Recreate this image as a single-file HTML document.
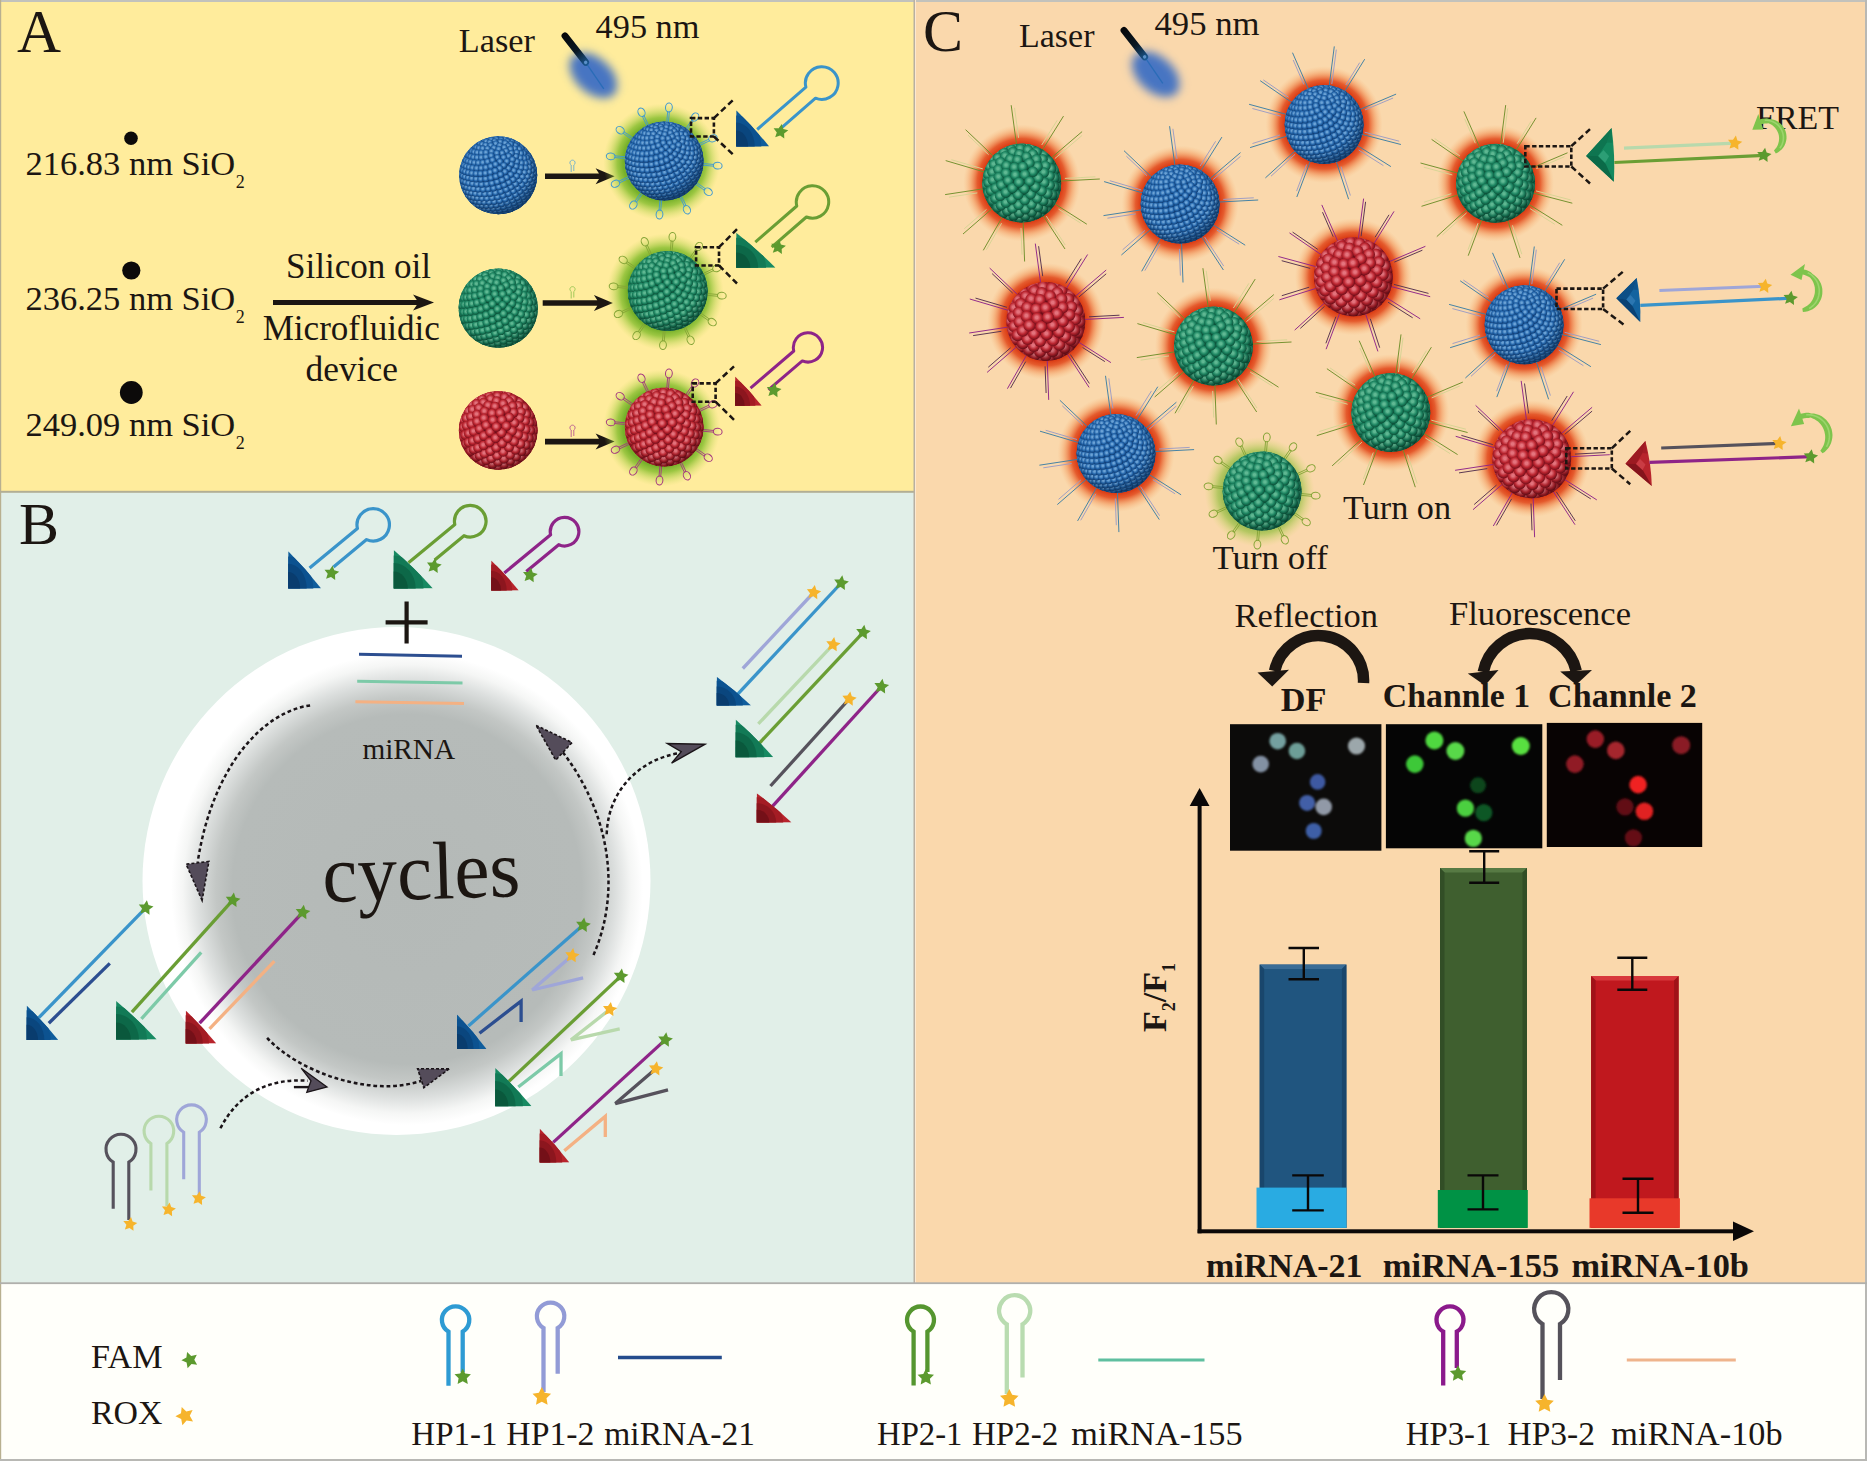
<!DOCTYPE html>
<html lang="en"><head><meta charset="utf-8"><title>Figure</title>
<style>
html,body{margin:0;padding:0;background:#fffffa;}
body{width:1867px;height:1461px;overflow:hidden;}
svg{display:block;font-family:"Liberation Serif",serif;}
</style></head><body>
<svg width="1867" height="1461" viewBox="0 0 1867 1461">
<defs>
<clipPath id="sclip"><circle r="40"/></clipPath>
<radialGradient id="sBb" cx="0.46" cy="0.43" r="0.58"><stop offset="0" stop-color="#6ca4d8"/><stop offset="0.18" stop-color="#6ca4d8"/><stop offset="0.6" stop-color="#2568ae"/><stop offset="1" stop-color="#0e3c74"/></radialGradient>
<radialGradient id="sBs" cx="0.45" cy="0.42" r="0.6"><stop offset="0" stop-color="#000" stop-opacity="0"/><stop offset="0.7" stop-color="#000" stop-opacity="0.02"/><stop offset="1" stop-color="#000" stop-opacity="0.3"/></radialGradient>
<symbol id="sB" viewBox="-41 -41 82 82" overflow="visible"><circle r="39.7" fill="#0e3c74"/><g clip-path="url(#sclip)" fill="url(#sBb)"><circle cx="-9.3" cy="-37" r="3.6"/><circle cx="-37.4" cy="-7.6" r="3.6"/><circle cx="37.7" cy="5.7" r="3.6"/><circle cx="35.9" cy="-12.9" r="3.6"/><circle cx="3.1" cy="-38.1" r="3.6"/><circle cx="2.4" cy="38.1" r="3.6"/><circle cx="-35.8" cy="-13.3" r="3.6"/><circle cx="27" cy="-27" r="3.6"/><circle cx="-5.8" cy="37.8" r="3.6"/><circle cx="-33.3" cy="-18.7" r="3.6"/><circle cx="-17.8" cy="33.8" r="3.6"/><circle cx="30.6" cy="22.9" r="3.6"/><circle cx="15.8" cy="-34.8" r="3.6"/><circle cx="-27.6" cy="26.4" r="3.6"/><circle cx="-15.5" cy="-34.9" r="3.6"/><circle cx="-30" cy="-23.6" r="3.6"/><circle cx="37.5" cy="-7.5" r="3.6"/><circle cx="-22.8" cy="30.6" r="3.6"/><circle cx="-34.6" cy="16.2" r="3.6"/><circle cx="36.5" cy="11.1" r="3.6"/><circle cx="23" cy="-30.5" r="3.6"/><circle cx="-25.9" cy="-28.1" r="3.6"/><circle cx="8.3" cy="-37.3" r="3.6"/><circle cx="7.5" cy="37.4" r="3.6"/><circle cx="26.9" cy="27" r="3.6"/><circle cx="38.1" cy="-2" r="3.6"/><circle cx="-36.7" cy="10.5" r="3.6"/><circle cx="22.6" cy="30.7" r="3.6"/><circle cx="12.7" cy="35.9" r="3.6"/><circle cx="-10.4" cy="36.6" r="3.6"/><circle cx="-21" cy="-31.8" r="3.6"/><circle cx="17.8" cy="33.6" r="3.6"/><circle cx="34.5" cy="16.2" r="3.6"/><circle cx="-37.8" cy="4.6" r="3.6"/><circle cx="-1.6" cy="38" r="3.6"/><circle cx="-31.2" cy="21.8" r="3.6"/><circle cx="-3.7" cy="-37.9" r="3.6"/><circle cx="-9.6" cy="-36.8" r="3.6"/><circle cx="-38" cy="-1.3" r="3.6"/><circle cx="37.8" cy="3.5" r="3.6"/><circle cx="32.2" cy="-20.2" r="3.6"/><circle cx="18.8" cy="-33" r="3.6"/><circle cx="-37.3" cy="-7.1" r="3.6"/><circle cx="34.7" cy="-15.2" r="3.6"/><circle cx="28.8" cy="-24.7" r="3.6"/><circle cx="1.8" cy="-37.9" r="3.6"/><circle cx="-35.7" cy="-12.8" r="3.6"/><circle cx="12.3" cy="-35.8" r="3.6"/><circle cx="-15.8" cy="34.4" r="3.6"/><circle cx="-33.2" cy="-18.2" r="3.6"/><circle cx="31.5" cy="20.9" r="3.6"/><circle cx="-26.6" cy="26.9" r="3.6"/><circle cx="-15.2" cy="-34.6" r="3.6"/><circle cx="36.4" cy="-10" r="3.6"/><circle cx="-29.8" cy="-23.2" r="3.6"/><circle cx="-21.3" cy="31.1" r="3.6"/><circle cx="-33.8" cy="16.6" r="3.6"/><circle cx="24.7" cy="-28.5" r="3.6"/><circle cx="3.2" cy="37.5" r="3.6"/><circle cx="36.6" cy="8.8" r="3.6"/><circle cx="-25.5" cy="-27.7" r="3.6"/><circle cx="27.9" cy="25.1" r="3.6"/><circle cx="-6.7" cy="36.9" r="3.6"/><circle cx="37.2" cy="-4.6" r="3.6"/><circle cx="6.5" cy="-36.8" r="3.6"/><circle cx="-35.7" cy="11.1" r="3.6"/><circle cx="8.4" cy="36.4" r="3.6"/><circle cx="23.6" cy="28.9" r="3.6"/><circle cx="-20.1" cy="-31.4" r="3.6"/><circle cx="34.5" cy="13.9" r="3.6"/><circle cx="-29.7" cy="22.3" r="3.6"/><circle cx="13.6" cy="34.5" r="3.6"/><circle cx="-36.7" cy="5.3" r="3.6"/><circle cx="18.8" cy="32" r="3.6"/><circle cx="37" cy="0.8" r="3.6"/><circle cx="-12.6" cy="34.8" r="3.6"/><circle cx="19.7" cy="-31.3" r="3.6"/><circle cx="-8.2" cy="-36" r="3.6"/><circle cx="-36.9" cy="-0.6" r="3.6"/><circle cx="-2.7" cy="-36.8" r="3.6"/><circle cx="14.3" cy="-34" r="3.6"/><circle cx="-36.2" cy="-6.4" r="3.6"/><circle cx="32.1" cy="-18" r="3.6"/><circle cx="28.9" cy="-22.8" r="3.6"/><circle cx="-2.2" cy="36.7" r="3.6"/><circle cx="-24.5" cy="27.4" r="3.6"/><circle cx="-34.6" cy="-12.1" r="3.6"/><circle cx="31.6" cy="18.6" r="3.6"/><circle cx="-18.6" cy="31.6" r="3.6"/><circle cx="-32.1" cy="-17.6" r="3.6"/><circle cx="-13.5" cy="-34" r="3.6"/><circle cx="34.2" cy="-12.9" r="3.6"/><circle cx="-28.6" cy="-22.7" r="3.6"/><circle cx="-32.1" cy="17.2" r="3.6"/><circle cx="35.9" cy="6.1" r="3.6"/><circle cx="24.4" cy="-26.9" r="3.6"/><circle cx="2.6" cy="-36.1" r="3.6"/><circle cx="-23.9" cy="-27.2" r="3.6"/><circle cx="35.3" cy="-7.6" r="3.6"/><circle cx="27.9" cy="22.9" r="3.6"/><circle cx="9.5" cy="-34.8" r="3.6"/><circle cx="2.8" cy="35.9" r="3.6"/><circle cx="-8.4" cy="34.8" r="3.6"/><circle cx="-33.8" cy="11.8" r="3.6"/><circle cx="-18" cy="-30.9" r="3.6"/><circle cx="33.8" cy="11.2" r="3.6"/><circle cx="23.5" cy="26.7" r="3.6"/><circle cx="-27.2" cy="22.9" r="3.6"/><circle cx="8.1" cy="34.5" r="3.6"/><circle cx="35.3" cy="-2.2" r="3.6"/><circle cx="-34.8" cy="6" r="3.6"/><circle cx="18.7" cy="29.9" r="3.6"/><circle cx="13.5" cy="32.5" r="3.6"/><circle cx="-14.9" cy="31.8" r="3.6"/><circle cx="18.2" cy="-30" r="3.6"/><circle cx="-21.3" cy="27.8" r="3.6"/><circle cx="-35" cy="0.2" r="3.6"/><circle cx="-4.5" cy="-34.7" r="3.6"/><circle cx="27.3" cy="-21.6" r="3.6"/><circle cx="-34.3" cy="-5.7" r="3.6"/><circle cx="30.9" cy="15.9" r="3.6"/><circle cx="-9.9" cy="-33.2" r="3.6"/><circle cx="-32.7" cy="-11.5" r="3.6"/><circle cx="30.4" cy="-16.5" r="3.6"/><circle cx="-30.1" cy="-17" r="3.6"/><circle cx="-3.6" cy="34.4" r="3.6"/><circle cx="13" cy="-31.9" r="3.6"/><circle cx="-26.4" cy="-22.1" r="3.6"/><circle cx="34.3" cy="3" r="3.6"/><circle cx="-29.4" cy="17.9" r="3.6"/><circle cx="22.2" cy="-26.2" r="3.6"/><circle cx="-21.3" cy="-26.7" r="3.6"/><circle cx="1.8" cy="-34.1" r="3.6"/><circle cx="32.1" cy="-11.3" r="3.6"/><circle cx="27.1" cy="20.2" r="3.6"/><circle cx="7.1" cy="-32.9" r="3.6"/><circle cx="-14.3" cy="-30.4" r="3.6"/><circle cx="1.7" cy="33.4" r="3.6"/><circle cx="-31" cy="12.4" r="3.6"/><circle cx="-10.4" cy="31.7" r="3.6"/><circle cx="-23.7" cy="23.3" r="3.6"/><circle cx="32.3" cy="8" r="3.6"/><circle cx="32.6" cy="-5.9" r="3.6"/><circle cx="22.7" cy="24" r="3.6"/><circle cx="-17.3" cy="28" r="3.6"/><circle cx="7.1" cy="31.9" r="3.6"/><circle cx="-32" cy="6.7" r="3.6"/><circle cx="17.8" cy="27.2" r="3.6"/><circle cx="12.6" cy="29.9" r="3.6"/><circle cx="-3.3" cy="-32.1" r="3.6"/><circle cx="24.1" cy="-21.4" r="3.6"/><circle cx="-32.2" cy="0.9" r="3.6"/><circle cx="29.4" cy="12.7" r="3.6"/><circle cx="17.3" cy="-26.9" r="3.6"/><circle cx="31.9" cy="-0.7" r="3.6"/><circle cx="-31.5" cy="-5" r="3.6"/><circle cx="-29.9" cy="-10.9" r="3.6"/><circle cx="-27.2" cy="-16.5" r="3.6"/><circle cx="-23.2" cy="-21.8" r="3.6"/><circle cx="27.4" cy="-16" r="3.6"/><circle cx="-17.4" cy="-26.5" r="3.6"/><circle cx="-5.4" cy="31.2" r="3.6"/><circle cx="-25.8" cy="18.4" r="3.6"/><circle cx="10.4" cy="-29.9" r="3.6"/><circle cx="-8.8" cy="-30.1" r="3.6"/><circle cx="25.7" cy="17" r="3.6"/><circle cx="28.8" cy="-10.5" r="3.6"/><circle cx="-19.6" cy="23.6" r="3.6"/><circle cx="-12.6" cy="27.9" r="3.6"/><circle cx="30.2" cy="4.3" r="3.6"/><circle cx="-27.4" cy="13" r="3.6"/><circle cx="0" cy="30.2" r="3.6"/><circle cx="1.1" cy="-30.2" r="3.6"/><circle cx="19.6" cy="-22.7" r="3.6"/><circle cx="21.4" cy="20.7" r="3.6"/><circle cx="12.9" cy="-26.4" r="3.6"/><circle cx="-12.3" cy="-26.6" r="3.6"/><circle cx="-28.4" cy="7.3" r="3.6"/><circle cx="5.6" cy="28.7" r="3.6"/><circle cx="28.7" cy="-5.2" r="3.6"/><circle cx="16.4" cy="24" r="3.6"/><circle cx="-19.1" cy="-21.7" r="3.6"/><circle cx="11.1" cy="26.6" r="3.6"/><circle cx="27.4" cy="9" r="3.6"/><circle cx="6" cy="-28" r="3.6"/><circle cx="-28.6" cy="1.4" r="3.6"/><circle cx="23.4" cy="-16.5" r="3.6"/><circle cx="-23.5" cy="-16.3" r="3.6"/><circle cx="-21.5" cy="18.6" r="3.6"/><circle cx="-7.4" cy="27.4" r="3.6"/><circle cx="-26.3" cy="-10.5" r="3.6"/><circle cx="-28" cy="-4.5" r="3.6"/><circle cx="-5.2" cy="-27.6" r="3.6"/><circle cx="-14.8" cy="23.5" r="3.6"/><circle cx="27.3" cy="-0.2" r="3.6"/><circle cx="23.8" cy="13.2" r="3.6"/><circle cx="24.5" cy="-10.8" r="3.6"/><circle cx="-23.1" cy="13.3" r="3.6"/><circle cx="-1.9" cy="26.4" r="3.6"/><circle cx="0" cy="-26.4" r="3.6"/><circle cx="-14" cy="-22.2" r="3.6"/><circle cx="18.7" cy="-18.4" r="3.6"/><circle cx="13.8" cy="-21.9" r="3.6"/><circle cx="19.5" cy="17" r="3.6"/><circle cx="8.1" cy="-24.1" r="3.6"/><circle cx="24.9" cy="4.6" r="3.6"/><circle cx="-24.1" cy="7.6" r="3.6"/><circle cx="3.7" cy="24.9" r="3.6"/><circle cx="-19" cy="-16.5" r="3.6"/><circle cx="-16.7" cy="18.6" r="3.6"/><circle cx="14.6" cy="20.2" r="3.6"/><circle cx="-9.5" cy="23" r="3.6"/><circle cx="-7.9" cy="-23.6" r="3.6"/><circle cx="9.3" cy="22.9" r="3.6"/><circle cx="23.9" cy="-5.5" r="3.6"/><circle cx="-22.1" cy="-10.5" r="3.6"/><circle cx="-24.4" cy="1.7" r="3.6"/><circle cx="-23.8" cy="-4.4" r="3.6"/><circle cx="21.5" cy="8.8" r="3.6"/><circle cx="19.7" cy="-12.3" r="3.6"/><circle cx="-18.3" cy="13.2" r="3.6"/><circle cx="-4" cy="22.1" r="3.6"/><circle cx="-13.9" cy="-17.3" r="3.6"/><circle cx="3.7" cy="-21.9" r="3.6"/><circle cx="22" cy="-0.6" r="3.6"/><circle cx="-2.2" cy="-21.8" r="3.6"/><circle cx="10.8" cy="-18.7" r="3.6"/><circle cx="17.3" cy="12.6" r="3.6"/><circle cx="-11.4" cy="18.1" r="3.6"/><circle cx="15" cy="-14.9" r="3.6"/><circle cx="-19.3" cy="7.5" r="3.6"/><circle cx="-8.3" cy="-18.9" r="3.6"/><circle cx="1.7" cy="20.6" r="3.6"/><circle cx="-17.3" cy="-10.9" r="3.6"/><circle cx="12.5" cy="15.9" r="3.6"/><circle cx="18.7" cy="-6.9" r="3.6"/><circle cx="7.2" cy="18.5" r="3.6"/><circle cx="-19.6" cy="1.5" r="3.6"/><circle cx="-19" cy="-4.6" r="3.6"/><circle cx="18.9" cy="3.7" r="3.6"/><circle cx="-13" cy="12.8" r="3.6"/><circle cx="-5.9" cy="17.2" r="3.6"/><circle cx="5.3" cy="-17" r="3.6"/><circle cx="-1.5" cy="-17" r="3.6"/><circle cx="-12.1" cy="-12.1" r="3.6"/><circle cx="15" cy="7.6" r="3.6"/><circle cx="13.5" cy="-9.3" r="3.6"/><circle cx="16.2" cy="-2.2" r="3.6"/><circle cx="-14.1" cy="7" r="3.6"/><circle cx="-0.3" cy="15.7" r="3.6"/><circle cx="-6.8" cy="-14" r="3.6"/><circle cx="8.8" cy="-12.7" r="3.6"/><circle cx="10.3" cy="10.9" r="3.6"/><circle cx="-14" cy="-5.5" r="3.6"/><circle cx="5.2" cy="13.6" r="3.6"/><circle cx="-14.5" cy="0.9" r="3.6"/><circle cx="-7.5" cy="11.8" r="3.6"/><circle cx="12.7" cy="1.9" r="3.6"/><circle cx="1.2" cy="-12.4" r="3.6"/><circle cx="10.5" cy="-4.8" r="3.6"/><circle cx="-8.7" cy="-6.9" r="3.6"/><circle cx="-8.7" cy="6" r="3.6"/><circle cx="-2" cy="10.2" r="3.6"/><circle cx="-3.6" cy="-9.2" r="3.6"/><circle cx="5.4" cy="-8.3" r="3.6"/><circle cx="8.3" cy="5.3" r="3.6"/><circle cx="-9.2" cy="-0.3" r="3.6"/><circle cx="3.3" cy="8.1" r="3.6"/><circle cx="6.5" cy="-1" r="3.6"/><circle cx="-3.3" cy="4.3" r="3.6"/><circle cx="1" cy="-4.8" r="3.6"/><circle cx="-4" cy="-2.2" r="3.6"/><circle cx="1.8" cy="2" r="3.6"/></g><circle r="40" fill="url(#sBs)"/></symbol>
<radialGradient id="sGb" cx="0.46" cy="0.43" r="0.58"><stop offset="0" stop-color="#60ba94"/><stop offset="0.18" stop-color="#60ba94"/><stop offset="0.6" stop-color="#1d8763"/><stop offset="1" stop-color="#0a5038"/></radialGradient>
<radialGradient id="sGs" cx="0.45" cy="0.42" r="0.6"><stop offset="0" stop-color="#000" stop-opacity="0"/><stop offset="0.7" stop-color="#000" stop-opacity="0.02"/><stop offset="1" stop-color="#000" stop-opacity="0.3"/></radialGradient>
<symbol id="sG" viewBox="-41 -41 82 82" overflow="visible"><circle r="39.7" fill="#0a5038"/><g clip-path="url(#sclip)" fill="url(#sGb)"><circle cx="27.2" cy="25.6" r="5.3"/><circle cx="5.1" cy="-37" r="5.3"/><circle cx="32.3" cy="18.8" r="5.3"/><circle cx="37.2" cy="2.7" r="5.3"/><circle cx="35.7" cy="11" r="5.3"/><circle cx="36.9" cy="-5.8" r="5.3"/><circle cx="-37.1" cy="4.2" r="5.3"/><circle cx="-34.5" cy="-14.4" r="5.3"/><circle cx="-15.8" cy="-33.8" r="5.3"/><circle cx="-7.5" cy="36.6" r="5.3"/><circle cx="34.5" cy="-14.1" r="5.3"/><circle cx="11.6" cy="35.5" r="5.3"/><circle cx="-20.1" cy="31.4" r="5.3"/><circle cx="23.8" cy="-28.7" r="5.3"/><circle cx="-8.1" cy="-36.4" r="5.3"/><circle cx="-22.8" cy="-29.5" r="5.3"/><circle cx="16.4" cy="-33.5" r="5.3"/><circle cx="1.7" cy="37.2" r="5.3"/><circle cx="-35.1" cy="12.3" r="5.3"/><circle cx="30" cy="-21.8" r="5.3"/><circle cx="-26.1" cy="26.4" r="5.3"/><circle cx="-36.5" cy="-6.5" r="5.3"/><circle cx="-31.3" cy="19.8" r="5.3"/><circle cx="-28.5" cy="-23.6" r="5.3"/><circle cx="19" cy="31.6" r="5.3"/><circle cx="-0.4" cy="-36.9" r="5.3"/><circle cx="9.6" cy="-35.4" r="5.3"/><circle cx="-12.6" cy="34.3" r="5.3"/><circle cx="25.5" cy="26.2" r="5.3"/><circle cx="30.6" cy="19.5" r="5.3"/><circle cx="36.1" cy="3.7" r="5.3"/><circle cx="-36.3" cy="1.8" r="5.3"/><circle cx="-32.3" cy="-16.6" r="5.3"/><circle cx="34.3" cy="11.9" r="5.3"/><circle cx="35.9" cy="-5" r="5.3"/><circle cx="8.6" cy="35" r="5.3"/><circle cx="33.3" cy="-13.7" r="5.3"/><circle cx="-2.5" cy="35.8" r="5.3"/><circle cx="-10.7" cy="-34.2" r="5.3"/><circle cx="22.1" cy="-28.2" r="5.3"/><circle cx="-18.3" cy="-30.8" r="5.3"/><circle cx="-18.6" cy="30.3" r="5.3"/><circle cx="-34" cy="10" r="5.3"/><circle cx="27.5" cy="-22" r="5.3"/><circle cx="-34" cy="-8.7" r="5.3"/><circle cx="-24.2" cy="-25.4" r="5.3"/><circle cx="15" cy="-31.7" r="5.3"/><circle cx="-30" cy="17.7" r="5.3"/><circle cx="-24.7" cy="24.6" r="5.3"/><circle cx="15.4" cy="31.2" r="5.3"/><circle cx="-1.5" cy="-34.7" r="5.3"/><circle cx="6.4" cy="-33.4" r="5.3"/><circle cx="-8.3" cy="32.9" r="5.3"/><circle cx="21.7" cy="25.9" r="5.3"/><circle cx="-28.1" cy="-18.7" r="5.3"/><circle cx="-33.6" cy="-0.5" r="5.3"/><circle cx="3.6" cy="33.3" r="5.3"/><circle cx="33" cy="-5.3" r="5.3"/><circle cx="33.1" cy="3.6" r="5.3"/><circle cx="27" cy="19.4" r="5.3"/><circle cx="31" cy="11.9" r="5.3"/><circle cx="29.8" cy="-14.5" r="5.3"/><circle cx="-8.9" cy="-31.4" r="5.3"/><circle cx="21.1" cy="-24.1" r="5.3"/><circle cx="-31.1" cy="7.8" r="5.3"/><circle cx="-14.7" cy="28.4" r="5.3"/><circle cx="-16.7" cy="-27.2" r="5.3"/><circle cx="-29.7" cy="-11" r="5.3"/><circle cx="11.2" cy="-29.1" r="5.3"/><circle cx="10.1" cy="29.5" r="5.3"/><circle cx="-26.7" cy="15.6" r="5.3"/><circle cx="-21.1" cy="22.6" r="5.3"/><circle cx="-2.6" cy="30.2" r="5.3"/><circle cx="-21.5" cy="-21.1" r="5.3"/><circle cx="24" cy="-17.3" r="5.3"/><circle cx="16.4" cy="24.4" r="5.3"/><circle cx="-2.4" cy="-29.2" r="5.3"/><circle cx="-29.2" cy="-2.9" r="5.3"/><circle cx="28.3" cy="-7" r="5.3"/><circle cx="28.4" cy="2.3" r="5.3"/><circle cx="21.9" cy="18.1" r="5.3"/><circle cx="26.1" cy="10.7" r="5.3"/><circle cx="14.9" cy="-23.9" r="5.3"/><circle cx="-9.4" cy="25.7" r="5.3"/><circle cx="-23.6" cy="-13.8" r="5.3"/><circle cx="-26.4" cy="5.2" r="5.3"/><circle cx="-11.6" cy="-24.3" r="5.3"/><circle cx="4.8" cy="-26.4" r="5.3"/><circle cx="3.7" cy="26.5" r="5.3"/><circle cx="-16" cy="19.9" r="5.3"/><circle cx="-21.9" cy="13" r="5.3"/><circle cx="22.4" cy="-10.6" r="5.3"/><circle cx="-23.2" cy="-5.9" r="5.3"/><circle cx="10" cy="21.5" r="5.3"/><circle cx="-4.1" cy="-23.3" r="5.3"/><circle cx="-15.4" cy="-17.5" r="5.3"/><circle cx="15.9" cy="-16.7" r="5.3"/><circle cx="22.8" cy="-0.5" r="5.3"/><circle cx="-3.2" cy="22.1" r="5.3"/><circle cx="15.6" cy="15.4" r="5.3"/><circle cx="20.1" cy="8" r="5.3"/><circle cx="7.7" cy="-20.2" r="5.3"/><circle cx="-20.5" cy="2.1" r="5.3"/><circle cx="-10" cy="16.4" r="5.3"/><circle cx="-15.9" cy="-9.9" r="5.3"/><circle cx="-16" cy="9.6" r="5.3"/><circle cx="3.1" cy="17.3" r="5.3"/><circle cx="16.7" cy="-5" r="5.3"/><circle cx="-7.3" cy="-15.7" r="5.3"/><circle cx="1.1" cy="-16.3" r="5.3"/><circle cx="11.3" cy="-11.4" r="5.3"/><circle cx="9" cy="11.3" r="5.3"/><circle cx="13.8" cy="4" r="5.3"/><circle cx="-13.7" cy="-2.2" r="5.3"/><circle cx="-3.6" cy="11.8" r="5.3"/><circle cx="-9.4" cy="5.2" r="5.3"/><circle cx="-6.4" cy="-7.9" r="5.3"/><circle cx="3.3" cy="-8.4" r="5.3"/><circle cx="7.9" cy="-1.6" r="5.3"/><circle cx="2.6" cy="5.9" r="5.3"/><circle cx="-2.8" cy="-0.6" r="5.3"/></g><circle r="40" fill="url(#sGs)"/></symbol>
<radialGradient id="sRb" cx="0.46" cy="0.43" r="0.58"><stop offset="0" stop-color="#e6747e"/><stop offset="0.18" stop-color="#e6747e"/><stop offset="0.6" stop-color="#be2631"/><stop offset="1" stop-color="#700c18"/></radialGradient>
<radialGradient id="sRs" cx="0.45" cy="0.42" r="0.6"><stop offset="0" stop-color="#000" stop-opacity="0"/><stop offset="0.7" stop-color="#000" stop-opacity="0.02"/><stop offset="1" stop-color="#000" stop-opacity="0.3"/></radialGradient>
<symbol id="sR" viewBox="-41 -41 82 82" overflow="visible"><circle r="39.7" fill="#700c18"/><g clip-path="url(#sclip)" fill="url(#sRb)"><circle cx="25.3" cy="-26.9" r="6.1"/><circle cx="-10.5" cy="-35.4" r="6.1"/><circle cx="-29.9" cy="21.6" r="6.1"/><circle cx="-34.5" cy="13.3" r="6.1"/><circle cx="23.4" cy="28.5" r="6.1"/><circle cx="17.1" cy="-32.7" r="6.1"/><circle cx="-32.2" cy="-18.2" r="6.1"/><circle cx="31.8" cy="-18.7" r="6.1"/><circle cx="30.5" cy="20.8" r="6.1"/><circle cx="-6.2" cy="36.4" r="6.1"/><circle cx="-1.8" cy="-36.8" r="6.1"/><circle cx="35" cy="11.5" r="6.1"/><circle cx="-35.5" cy="-9.6" r="6.1"/><circle cx="14.2" cy="33.9" r="6.1"/><circle cx="-19.3" cy="31.3" r="6.1"/><circle cx="36.7" cy="1.4" r="6.1"/><circle cx="9.7" cy="-35.4" r="6.1"/><circle cx="3.7" cy="36.5" r="6.1"/><circle cx="35.2" cy="-9.2" r="6.1"/><circle cx="-36.4" cy="-0.4" r="6.1"/><circle cx="-21.9" cy="-28.7" r="6.1"/><circle cx="-25.6" cy="25.4" r="6.1"/><circle cx="-13.5" cy="-33.4" r="6.1"/><circle cx="23.8" cy="-27" r="6.1"/><circle cx="22.5" cy="28.1" r="6.1"/><circle cx="-34.8" cy="8.9" r="6.1"/><circle cx="-31" cy="17.7" r="6.1"/><circle cx="-28.2" cy="-21.9" r="6.1"/><circle cx="29.6" cy="-19.6" r="6.1"/><circle cx="-11.1" cy="33.7" r="6.1"/><circle cx="28.8" cy="20.3" r="6.1"/><circle cx="15.8" cy="-31.4" r="6.1"/><circle cx="-3" cy="-34.8" r="6.1"/><circle cx="-32" cy="-13.6" r="6.1"/><circle cx="11.7" cy="32.8" r="6.1"/><circle cx="33" cy="10.9" r="6.1"/><circle cx="-0.1" cy="34.5" r="6.1"/><circle cx="34.3" cy="0.4" r="6.1"/><circle cx="6" cy="-33.6" r="6.1"/><circle cx="31.9" cy="-10.8" r="6.1"/><circle cx="-33.3" cy="-4.5" r="6.1"/><circle cx="-17.2" cy="28.8" r="6.1"/><circle cx="-11.6" cy="-30.7" r="6.1"/><circle cx="19" cy="26.6" r="6.1"/><circle cx="-20.3" cy="-25.2" r="6.1"/><circle cx="-32" cy="4.9" r="6.1"/><circle cx="22.8" cy="-22.6" r="6.1"/><circle cx="-23.3" cy="22" r="6.1"/><circle cx="-28.5" cy="13.9" r="6.1"/><circle cx="-5.8" cy="30.7" r="6.1"/><circle cx="25" cy="18.6" r="6.1"/><circle cx="11.6" cy="-28.8" r="6.1"/><circle cx="-25.4" cy="-17.6" r="6.1"/><circle cx="6.9" cy="30.1" r="6.1"/><circle cx="28.9" cy="9" r="6.1"/><circle cx="29.8" cy="-2.1" r="6.1"/><circle cx="25.8" cy="-14.6" r="6.1"/><circle cx="-4.1" cy="-28.7" r="6.1"/><circle cx="-27.4" cy="-8.8" r="6.1"/><circle cx="-12.2" cy="25" r="6.1"/><circle cx="15.8" cy="-22.6" r="6.1"/><circle cx="13.7" cy="23.6" r="6.1"/><circle cx="-14.6" cy="-22.4" r="6.1"/><circle cx="-26.6" cy="0.5" r="6.1"/><circle cx="4.2" cy="-25.5" r="6.1"/><circle cx="0.7" cy="25.8" r="6.1"/><circle cx="-18.4" cy="17.9" r="6.1"/><circle cx="-23.4" cy="9.5" r="6.1"/><circle cx="19.6" cy="15.4" r="6.1"/><circle cx="23.8" cy="-6.6" r="6.1"/><circle cx="23.4" cy="5.4" r="6.1"/><circle cx="-18.8" cy="-14.1" r="6.1"/><circle cx="-6" cy="-21.7" r="6.1"/><circle cx="16.8" cy="-14" r="6.1"/><circle cx="-5.8" cy="19.8" r="6.1"/><circle cx="7.4" cy="19.1" r="6.1"/><circle cx="-19.2" cy="-5" r="6.1"/><circle cx="7.5" cy="-18.2" r="6.1"/><circle cx="-11.9" cy="12.5" r="6.1"/><circle cx="17.2" cy="-0.1" r="6.1"/><circle cx="-16.6" cy="4.1" r="6.1"/><circle cx="13.3" cy="10.6" r="6.1"/><circle cx="-9.7" cy="-12.4" r="6.1"/><circle cx="11.4" cy="-7.7" r="6.1"/><circle cx="-0.1" cy="-13.5" r="6.1"/><circle cx="1" cy="13" r="6.1"/><circle cx="-8.7" cy="-3.1" r="6.1"/><circle cx="7.1" cy="4.1" r="6.1"/><circle cx="-4.7" cy="5.5" r="6.1"/><circle cx="2.2" cy="-4" r="6.1"/></g><circle r="40" fill="url(#sRs)"/></symbol>
<radialGradient id="sBab" cx="0.46" cy="0.43" r="0.58"><stop offset="0" stop-color="#6ca4d8"/><stop offset="0.18" stop-color="#6ca4d8"/><stop offset="0.6" stop-color="#2568ae"/><stop offset="1" stop-color="#0e3c74"/></radialGradient>
<radialGradient id="sBas" cx="0.45" cy="0.42" r="0.6"><stop offset="0" stop-color="#000" stop-opacity="0"/><stop offset="0.7" stop-color="#000" stop-opacity="0.02"/><stop offset="1" stop-color="#000" stop-opacity="0.3"/></radialGradient>
<symbol id="sBa" viewBox="-41 -41 82 82" overflow="visible"><circle r="39.7" fill="#0e3c74"/><g clip-path="url(#sclip)" fill="url(#sBab)"><circle cx="11.3" cy="-36.6" r="3.4"/><circle cx="19.2" cy="-33.1" r="3.4"/><circle cx="-32.9" cy="19.6" r="3.4"/><circle cx="20.6" cy="32.3" r="3.4"/><circle cx="32.8" cy="19.8" r="3.4"/><circle cx="37.3" cy="8.7" r="3.4"/><circle cx="11.1" cy="36.7" r="3.4"/><circle cx="-9.8" cy="37" r="3.4"/><circle cx="38.2" cy="-3.3" r="3.4"/><circle cx="16" cy="34.8" r="3.4"/><circle cx="-19" cy="-33.3" r="3.4"/><circle cx="-2" cy="38.3" r="3.4"/><circle cx="-2.2" cy="-38.3" r="3.4"/><circle cx="-35.4" cy="14.6" r="3.4"/><circle cx="29.7" cy="-24.2" r="3.4"/><circle cx="32.8" cy="-19.9" r="3.4"/><circle cx="-8.2" cy="-37.4" r="3.4"/><circle cx="3.5" cy="-38.2" r="3.4"/><circle cx="26.2" cy="-27.9" r="3.4"/><circle cx="-29.3" cy="24.7" r="3.4"/><circle cx="35.2" cy="-15.2" r="3.4"/><circle cx="-37.2" cy="9.4" r="3.4"/><circle cx="29.8" cy="24.1" r="3.4"/><circle cx="-14.6" cy="35.4" r="3.4"/><circle cx="38.3" cy="1.9" r="3.4"/><circle cx="35.8" cy="13.6" r="3.4"/><circle cx="-38.1" cy="4" r="3.4"/><circle cx="15.5" cy="-35" r="3.4"/><circle cx="-38.3" cy="-1.4" r="3.4"/><circle cx="-36.4" cy="-12" r="3.4"/><circle cx="-34.3" cy="-17" r="3.4"/><circle cx="-37.7" cy="-6.8" r="3.4"/><circle cx="-14" cy="-35.6" r="3.4"/><circle cx="-31.6" cy="-21.6" r="3.4"/><circle cx="2.5" cy="38.2" r="3.4"/><circle cx="36.9" cy="-10.2" r="3.4"/><circle cx="-24.8" cy="29.1" r="3.4"/><circle cx="-28.1" cy="-25.9" r="3.4"/><circle cx="-19.8" cy="32.7" r="3.4"/><circle cx="22.3" cy="-31" r="3.4"/><circle cx="26.2" cy="27.9" r="3.4"/><circle cx="8.5" cy="-37.3" r="3.4"/><circle cx="-6.5" cy="37.6" r="3.4"/><circle cx="-24" cy="-29.7" r="3.4"/><circle cx="-32.4" cy="20.2" r="3.4"/><circle cx="33.5" cy="18.3" r="3.4"/><circle cx="37.5" cy="7" r="3.4"/><circle cx="7.4" cy="37.4" r="3.4"/><circle cx="21.9" cy="31.2" r="3.4"/><circle cx="37.8" cy="-5.1" r="3.4"/><circle cx="-19.2" cy="-32.8" r="3.4"/><circle cx="12.4" cy="35.9" r="3.4"/><circle cx="17.3" cy="33.9" r="3.4"/><circle cx="-2.9" cy="-37.9" r="3.4"/><circle cx="-34.7" cy="15.4" r="3.4"/><circle cx="-8.4" cy="-37" r="3.4"/><circle cx="-11.7" cy="36" r="3.4"/><circle cx="31.1" cy="-21.6" r="3.4"/><circle cx="18.2" cy="-33.2" r="3.4"/><circle cx="-28.1" cy="25.4" r="3.4"/><circle cx="27.8" cy="-25.7" r="3.4"/><circle cx="30.4" cy="22.5" r="3.4"/><circle cx="2.3" cy="-37.8" r="3.4"/><circle cx="33.7" cy="-17.1" r="3.4"/><circle cx="12.1" cy="-35.8" r="3.4"/><circle cx="-2.3" cy="37.7" r="3.4"/><circle cx="-36.4" cy="10.2" r="3.4"/><circle cx="37.8" cy="0" r="3.4"/><circle cx="35.9" cy="11.9" r="3.4"/><circle cx="-37.4" cy="4.9" r="3.4"/><circle cx="-13.7" cy="-35.1" r="3.4"/><circle cx="-17.4" cy="33.4" r="3.4"/><circle cx="-23" cy="29.8" r="3.4"/><circle cx="-37.6" cy="-0.5" r="3.4"/><circle cx="-34" cy="-16.1" r="3.4"/><circle cx="-35.9" cy="-11.1" r="3.4"/><circle cx="-37.2" cy="-5.8" r="3.4"/><circle cx="-31.3" cy="-20.8" r="3.4"/><circle cx="35.5" cy="-12.3" r="3.4"/><circle cx="23.8" cy="-29.1" r="3.4"/><circle cx="-27.8" cy="-25.2" r="3.4"/><circle cx="26.6" cy="26.4" r="3.4"/><circle cx="-23.5" cy="-29" r="3.4"/><circle cx="-30.9" cy="21" r="3.4"/><circle cx="2.4" cy="37.3" r="3.4"/><circle cx="6.7" cy="-36.7" r="3.4"/><circle cx="36.9" cy="5" r="3.4"/><circle cx="33.4" cy="16.5" r="3.4"/><circle cx="36.5" cy="-7.3" r="3.4"/><circle cx="-7.9" cy="36.3" r="3.4"/><circle cx="22.3" cy="29.7" r="3.4"/><circle cx="-18.4" cy="-32.2" r="3.4"/><circle cx="7.4" cy="36.3" r="3.4"/><circle cx="17.6" cy="32.5" r="3.4"/><circle cx="-33.1" cy="16.3" r="3.4"/><circle cx="12.5" cy="34.7" r="3.4"/><circle cx="19.1" cy="-31.5" r="3.4"/><circle cx="-25.9" cy="26.1" r="3.4"/><circle cx="-7.1" cy="-36.1" r="3.4"/><circle cx="-1.9" cy="-36.7" r="3.4"/><circle cx="14" cy="-34" r="3.4"/><circle cx="-14" cy="33.9" r="3.4"/><circle cx="30.2" cy="20.7" r="3.4"/><circle cx="36.5" cy="-2.2" r="3.4"/><circle cx="35.2" cy="9.9" r="3.4"/><circle cx="27.8" cy="-23.8" r="3.4"/><circle cx="31" cy="-19.4" r="3.4"/><circle cx="-20.2" cy="30.5" r="3.4"/><circle cx="-34.8" cy="11.2" r="3.4"/><circle cx="-12.1" cy="-34.3" r="3.4"/><circle cx="-3.5" cy="36.2" r="3.4"/><circle cx="-35.8" cy="6" r="3.4"/><circle cx="33.1" cy="-14.8" r="3.4"/><circle cx="23.5" cy="-27.5" r="3.4"/><circle cx="-30.1" cy="-20" r="3.4"/><circle cx="-32.8" cy="-15.1" r="3.4"/><circle cx="-36.1" cy="0.6" r="3.4"/><circle cx="-34.7" cy="-10" r="3.4"/><circle cx="3" cy="-36" r="3.4"/><circle cx="-35.8" cy="-4.8" r="3.4"/><circle cx="-26.6" cy="-24.4" r="3.4"/><circle cx="26.3" cy="24.5" r="3.4"/><circle cx="-28.5" cy="21.9" r="3.4"/><circle cx="9.4" cy="-34.6" r="3.4"/><circle cx="-22" cy="-28.3" r="3.4"/><circle cx="35.7" cy="2.7" r="3.4"/><circle cx="32.7" cy="14.4" r="3.4"/><circle cx="34.3" cy="-9.9" r="3.4"/><circle cx="1.5" cy="35.6" r="3.4"/><circle cx="-9.9" cy="34.1" r="3.4"/><circle cx="-16.3" cy="-31.5" r="3.4"/><circle cx="21.9" cy="27.9" r="3.4"/><circle cx="-22.8" cy="26.8" r="3.4"/><circle cx="6.7" cy="34.5" r="3.4"/><circle cx="-30.6" cy="17.2" r="3.4"/><circle cx="-16.5" cy="30.9" r="3.4"/><circle cx="17" cy="30.6" r="3.4"/><circle cx="11.9" cy="32.8" r="3.4"/><circle cx="17.6" cy="-30.2" r="3.4"/><circle cx="34.5" cy="-4.9" r="3.4"/><circle cx="-3.6" cy="-34.6" r="3.4"/><circle cx="29.4" cy="18.6" r="3.4"/><circle cx="34" cy="7.5" r="3.4"/><circle cx="26.2" cy="-22.5" r="3.4"/><circle cx="-32.3" cy="12.2" r="3.4"/><circle cx="-8.7" cy="-33.4" r="3.4"/><circle cx="12.8" cy="-31.9" r="3.4"/><circle cx="29.3" cy="-17.9" r="3.4"/><circle cx="-5.2" cy="33.9" r="3.4"/><circle cx="21.4" cy="-26.7" r="3.4"/><circle cx="-33.4" cy="7" r="3.4"/><circle cx="2.2" cy="-34" r="3.4"/><circle cx="-24.4" cy="-23.7" r="3.4"/><circle cx="-28.1" cy="-19.1" r="3.4"/><circle cx="-25.2" cy="22.7" r="3.4"/><circle cx="-30.8" cy="-14.2" r="3.4"/><circle cx="25.4" cy="22.3" r="3.4"/><circle cx="-33.8" cy="1.7" r="3.4"/><circle cx="-19.5" cy="-27.7" r="3.4"/><circle cx="-32.6" cy="-9" r="3.4"/><circle cx="33.8" cy="-0.1" r="3.4"/><circle cx="-33.6" cy="-3.7" r="3.4"/><circle cx="31.1" cy="-13.1" r="3.4"/><circle cx="7.2" cy="-32.8" r="3.4"/><circle cx="31.4" cy="12" r="3.4"/><circle cx="-12.1" cy="31.1" r="3.4"/><circle cx="-12.9" cy="-30.8" r="3.4"/><circle cx="-0.1" cy="33.3" r="3.4"/><circle cx="-19" cy="27.4" r="3.4"/><circle cx="20.9" cy="25.6" r="3.4"/><circle cx="-27.3" cy="18.1" r="3.4"/><circle cx="31.7" cy="-8.2" r="3.4"/><circle cx="5.3" cy="32.2" r="3.4"/><circle cx="15.9" cy="28.3" r="3.4"/><circle cx="32.1" cy="4.6" r="3.4"/><circle cx="10.7" cy="30.5" r="3.4"/><circle cx="28" cy="16.1" r="3.4"/><circle cx="-2.5" cy="-32.2" r="3.4"/><circle cx="23.2" cy="-22.3" r="3.4"/><circle cx="16.8" cy="-27.2" r="3.4"/><circle cx="-29" cy="13.1" r="3.4"/><circle cx="-7.2" cy="31" r="3.4"/><circle cx="10.2" cy="-30" r="3.4"/><circle cx="26.4" cy="-17.3" r="3.4"/><circle cx="-21.3" cy="23.3" r="3.4"/><circle cx="-15.8" cy="-27.3" r="3.4"/><circle cx="-21.3" cy="-23.1" r="3.4"/><circle cx="31.2" cy="-3.4" r="3.4"/><circle cx="-7.6" cy="-30.4" r="3.4"/><circle cx="-25.2" cy="-18.4" r="3.4"/><circle cx="-30.2" cy="8" r="3.4"/><circle cx="-14.4" cy="27.6" r="3.4"/><circle cx="24" cy="19.7" r="3.4"/><circle cx="-28" cy="-13.4" r="3.4"/><circle cx="29.5" cy="9" r="3.4"/><circle cx="-30.7" cy="2.6" r="3.4"/><circle cx="-29.7" cy="-8.1" r="3.4"/><circle cx="-30.6" cy="-2.7" r="3.4"/><circle cx="-2" cy="30.4" r="3.4"/><circle cx="27.8" cy="-12.3" r="3.4"/><circle cx="1.6" cy="-30.3" r="3.4"/><circle cx="18.9" cy="-23.3" r="3.4"/><circle cx="19.4" cy="22.9" r="3.4"/><circle cx="-23.3" cy="18.7" r="3.4"/><circle cx="29.7" cy="1.3" r="3.4"/><circle cx="12.7" cy="-26.8" r="3.4"/><circle cx="3.5" cy="29.3" r="3.4"/><circle cx="-10.9" cy="-27.2" r="3.4"/><circle cx="14.3" cy="25.6" r="3.4"/><circle cx="26.2" cy="13.1" r="3.4"/><circle cx="9" cy="27.7" r="3.4"/><circle cx="-9.4" cy="27.5" r="3.4"/><circle cx="6.2" cy="-28.3" r="3.4"/><circle cx="-16.7" cy="23.6" r="3.4"/><circle cx="27.9" cy="-7.4" r="3.4"/><circle cx="-17.3" cy="-22.9" r="3.4"/><circle cx="22.5" cy="-17.7" r="3.4"/><circle cx="-25.1" cy="13.9" r="3.4"/><circle cx="-4.3" cy="-27.9" r="3.4"/><circle cx="-21.6" cy="-18" r="3.4"/><circle cx="27.2" cy="5.6" r="3.4"/><circle cx="22.1" cy="16.7" r="3.4"/><circle cx="-26.3" cy="8.7" r="3.4"/><circle cx="-24.4" cy="-12.8" r="3.4"/><circle cx="-4.1" cy="27" r="3.4"/><circle cx="-26.2" cy="-7.5" r="3.4"/><circle cx="-27" cy="3.4" r="3.4"/><circle cx="-27" cy="-2" r="3.4"/><circle cx="26.7" cy="-2.8" r="3.4"/><circle cx="23.7" cy="-12.5" r="3.4"/><circle cx="-18.8" cy="19.1" r="3.4"/><circle cx="0.6" cy="-26.8" r="3.4"/><circle cx="18.1" cy="-19.4" r="3.4"/><circle cx="17.5" cy="19.8" r="3.4"/><circle cx="-12.5" cy="-23.2" r="3.4"/><circle cx="13.5" cy="-22.6" r="3.4"/><circle cx="-11.6" cy="23.6" r="3.4"/><circle cx="1.4" cy="26" r="3.4"/><circle cx="8.1" cy="-24.6" r="3.4"/><circle cx="24" cy="9.6" r="3.4"/><circle cx="12.4" cy="22.4" r="3.4"/><circle cx="7" cy="24.5" r="3.4"/><circle cx="-6.8" cy="-24.3" r="3.4"/><circle cx="-20.5" cy="14.3" r="3.4"/><circle cx="-17.3" cy="-18" r="3.4"/><circle cx="24.5" cy="1.6" r="3.4"/><circle cx="23.3" cy="-7.7" r="3.4"/><circle cx="-6.3" cy="23.1" r="3.4"/><circle cx="-20.3" cy="-12.6" r="3.4"/><circle cx="19.9" cy="13.2" r="3.4"/><circle cx="-21.9" cy="9.2" r="3.4"/><circle cx="19.2" cy="-13.8" r="3.4"/><circle cx="-13.7" cy="19.2" r="3.4"/><circle cx="-22" cy="-7.1" r="3.4"/><circle cx="-22.6" cy="3.9" r="3.4"/><circle cx="4" cy="-22.6" r="3.4"/><circle cx="-22.7" cy="-1.6" r="3.4"/><circle cx="-1.4" cy="-22.6" r="3.4"/><circle cx="-12.5" cy="-18.6" r="3.4"/><circle cx="10.7" cy="-19.6" r="3.4"/><circle cx="15.3" cy="16.2" r="3.4"/><circle cx="-0.7" cy="22.2" r="3.4"/><circle cx="21.4" cy="5.6" r="3.4"/><circle cx="14.6" cy="-16.1" r="3.4"/><circle cx="21.5" cy="-3.2" r="3.4"/><circle cx="10.2" cy="18.8" r="3.4"/><circle cx="4.8" cy="20.7" r="3.4"/><circle cx="-7.2" cy="-20" r="3.4"/><circle cx="-15.5" cy="14.4" r="3.4"/><circle cx="-8.4" cy="18.8" r="3.4"/><circle cx="-15.7" cy="-12.9" r="3.4"/><circle cx="18.3" cy="-8.9" r="3.4"/><circle cx="17.6" cy="9.1" r="3.4"/><circle cx="-17" cy="9.4" r="3.4"/><circle cx="5.6" cy="-18.1" r="3.4"/><circle cx="-17.4" cy="-7.2" r="3.4"/><circle cx="18.8" cy="0.9" r="3.4"/><circle cx="-17.9" cy="4" r="3.4"/><circle cx="-0.8" cy="-18.2" r="3.4"/><circle cx="-2.8" cy="17.9" r="3.4"/><circle cx="-18.1" cy="-1.5" r="3.4"/><circle cx="13" cy="12.1" r="3.4"/><circle cx="-10.8" cy="-13.8" r="3.4"/><circle cx="-10.2" cy="14.1" r="3.4"/><circle cx="13.3" cy="-11.1" r="3.4"/><circle cx="8.9" cy="-14.2" r="3.4"/><circle cx="2.7" cy="16.6" r="3.4"/><circle cx="8" cy="14.6" r="3.4"/><circle cx="16" cy="-4.6" r="3.4"/><circle cx="-5.8" cy="-15.5" r="3.4"/><circle cx="15.1" cy="4.5" r="3.4"/><circle cx="-11.8" cy="9" r="3.4"/><circle cx="-12.6" cy="-7.8" r="3.4"/><circle cx="-4.8" cy="13.3" r="3.4"/><circle cx="1.8" cy="-14" r="3.4"/><circle cx="-12.8" cy="3.7" r="3.4"/><circle cx="-13.1" cy="-2" r="3.4"/><circle cx="10.8" cy="7.5" r="3.4"/><circle cx="12.7" cy="-0.8" r="3.4"/><circle cx="10.6" cy="-6.9" r="3.4"/><circle cx="0.6" cy="11.9" r="3.4"/><circle cx="-7.6" cy="-9.1" r="3.4"/><circle cx="5.7" cy="-10.1" r="3.4"/><circle cx="5.9" cy="10" r="3.4"/><circle cx="-2.7" cy="-11.1" r="3.4"/><circle cx="-6.4" cy="8.2" r="3.4"/><circle cx="8.6" cy="2.3" r="3.4"/><circle cx="-8.1" cy="-3" r="3.4"/><circle cx="-7.6" cy="2.8" r="3.4"/><circle cx="6.9" cy="-3.5" r="3.4"/><circle cx="1.6" cy="-7" r="3.4"/><circle cx="-1.1" cy="6.8" r="3.4"/><circle cx="4" cy="4.9" r="3.4"/><circle cx="-3.1" cy="-4.6" r="3.4"/><circle cx="-2.4" cy="1.3" r="3.4"/><circle cx="2.4" cy="-0.8" r="3.4"/></g><circle r="40" fill="url(#sBas)"/></symbol>
<radialGradient id="sGab" cx="0.46" cy="0.43" r="0.58"><stop offset="0" stop-color="#60ba94"/><stop offset="0.18" stop-color="#60ba94"/><stop offset="0.6" stop-color="#1d8763"/><stop offset="1" stop-color="#0a5038"/></radialGradient>
<radialGradient id="sGas" cx="0.45" cy="0.42" r="0.6"><stop offset="0" stop-color="#000" stop-opacity="0"/><stop offset="0.7" stop-color="#000" stop-opacity="0.02"/><stop offset="1" stop-color="#000" stop-opacity="0.3"/></radialGradient>
<symbol id="sGa" viewBox="-41 -41 82 82" overflow="visible"><circle r="39.7" fill="#0a5038"/><g clip-path="url(#sclip)" fill="url(#sGab)"><circle cx="12.9" cy="35.6" r="4.2"/><circle cx="32.7" cy="19" r="4.2"/><circle cx="-36.6" cy="-9.6" r="4.2"/><circle cx="-35.8" cy="12.2" r="4.2"/><circle cx="-12.7" cy="35.7" r="4.2"/><circle cx="29" cy="24.4" r="4.2"/><circle cx="-5.9" cy="-37.4" r="4.2"/><circle cx="34.3" cy="-16" r="4.2"/><circle cx="-12.7" cy="-35.7" r="4.2"/><circle cx="36.6" cy="-9.7" r="4.2"/><circle cx="18.9" cy="32.8" r="4.2"/><circle cx="24.4" cy="29" r="4.2"/><circle cx="-34" cy="-16.6" r="4.2"/><circle cx="31" cy="-21.7" r="4.2"/><circle cx="37.7" cy="-3.3" r="4.2"/><circle cx="20.1" cy="-32.1" r="4.2"/><circle cx="0.5" cy="-37.9" r="4.2"/><circle cx="12.7" cy="-35.7" r="4.2"/><circle cx="-19" cy="-32.7" r="4.2"/><circle cx="4.1" cy="37.6" r="4.2"/><circle cx="-37.5" cy="4.8" r="4.2"/><circle cx="-4.9" cy="37.5" r="4.2"/><circle cx="37.7" cy="3.2" r="4.2"/><circle cx="-30" cy="-23" r="4.2"/><circle cx="-32.9" cy="18.6" r="4.2"/><circle cx="-18" cy="33.2" r="4.2"/><circle cx="26.7" cy="-26.7" r="4.2"/><circle cx="36.5" cy="9.5" r="4.2"/><circle cx="-37.6" cy="-2.7" r="4.2"/><circle cx="-28.6" cy="24.5" r="4.2"/><circle cx="-23.5" cy="29.4" r="4.2"/><circle cx="-24.5" cy="-28.6" r="4.2"/><circle cx="6" cy="-37.1" r="4.2"/><circle cx="10" cy="36.2" r="4.2"/><circle cx="34.2" cy="15.5" r="4.2"/><circle cx="-36.2" cy="-10.1" r="4.2"/><circle cx="-35.6" cy="11.7" r="4.2"/><circle cx="-9.8" cy="36.1" r="4.2"/><circle cx="30.8" cy="21.1" r="4.2"/><circle cx="-11.1" cy="-35.6" r="4.2"/><circle cx="15.9" cy="33.7" r="4.2"/><circle cx="-33.2" cy="-17" r="4.2"/><circle cx="34.6" cy="-13.9" r="4.2"/><circle cx="21.4" cy="-30.5" r="4.2"/><circle cx="0" cy="37.2" r="4.2"/><circle cx="-4.7" cy="-36.9" r="4.2"/><circle cx="26.6" cy="26" r="4.2"/><circle cx="31.4" cy="-19.9" r="4.2"/><circle cx="36.4" cy="-7.5" r="4.2"/><circle cx="15.1" cy="-33.9" r="4.2"/><circle cx="21.5" cy="30.3" r="4.2"/><circle cx="-17.1" cy="-32.8" r="4.2"/><circle cx="-36.7" cy="4.4" r="4.2"/><circle cx="-28.6" cy="-23.3" r="4.2"/><circle cx="36.9" cy="-1.1" r="4.2"/><circle cx="-32" cy="18.3" r="4.2"/><circle cx="26.7" cy="-25.3" r="4.2"/><circle cx="-15.6" cy="33.3" r="4.2"/><circle cx="1.5" cy="-36.5" r="4.2"/><circle cx="36.2" cy="5.3" r="4.2"/><circle cx="-36.4" cy="-3" r="4.2"/><circle cx="-27.2" cy="24.2" r="4.2"/><circle cx="-21.5" cy="29.3" r="4.2"/><circle cx="5.5" cy="35.9" r="4.2"/><circle cx="9.6" cy="-35.1" r="4.2"/><circle cx="-22.2" cy="-28.8" r="4.2"/><circle cx="34.2" cy="11.5" r="4.2"/><circle cx="-5.5" cy="35.7" r="4.2"/><circle cx="-34.6" cy="-10.3" r="4.2"/><circle cx="-34" cy="11.4" r="4.2"/><circle cx="31.2" cy="17.2" r="4.2"/><circle cx="-31.1" cy="-17.3" r="4.2"/><circle cx="11.3" cy="33.8" r="4.2"/><circle cx="19.7" cy="-29.4" r="4.2"/><circle cx="-6.8" cy="-34.7" r="4.2"/><circle cx="33" cy="-12.6" r="4.2"/><circle cx="29.8" cy="-18.9" r="4.2"/><circle cx="27.2" cy="22.4" r="4.2"/><circle cx="17" cy="30.7" r="4.2"/><circle cx="-13.1" cy="-32.6" r="4.2"/><circle cx="-25.9" cy="-23.6" r="4.2"/><circle cx="22.4" cy="26.9" r="4.2"/><circle cx="-34.7" cy="4.1" r="4.2"/><circle cx="34.4" cy="-6" r="4.2"/><circle cx="-11.7" cy="32.9" r="4.2"/><circle cx="-29.8" cy="18" r="4.2"/><circle cx="13.8" cy="-31.8" r="4.2"/><circle cx="24.3" cy="-24.8" r="4.2"/><circle cx="-0.3" cy="34.6" r="4.2"/><circle cx="34.4" cy="0.4" r="4.2"/><circle cx="0.6" cy="-34.4" r="4.2"/><circle cx="-18.2" cy="29" r="4.2"/><circle cx="-34" cy="-3.3" r="4.2"/><circle cx="-24.4" cy="24" r="4.2"/><circle cx="-18.2" cy="-28.9" r="4.2"/><circle cx="6.8" cy="-33.1" r="4.2"/><circle cx="32.9" cy="6.7" r="4.2"/><circle cx="-31.8" cy="-10.6" r="4.2"/><circle cx="-31.3" cy="11.1" r="4.2"/><circle cx="5.4" cy="32.7" r="4.2"/><circle cx="-27.9" cy="-17.6" r="4.2"/><circle cx="30.3" cy="12.6" r="4.2"/><circle cx="-6.9" cy="32" r="4.2"/><circle cx="26.4" cy="-19" r="4.2"/><circle cx="-5.4" cy="-31.9" r="4.2"/><circle cx="-21.7" cy="-24" r="4.2"/><circle cx="29.8" cy="-12.2" r="4.2"/><circle cx="11.2" cy="30.1" r="4.2"/><circle cx="26.6" cy="17.9" r="4.2"/><circle cx="18.8" cy="-25.9" r="4.2"/><circle cx="-31.7" cy="3.9" r="4.2"/><circle cx="-26.5" cy="17.7" r="4.2"/><circle cx="22.1" cy="22.7" r="4.2"/><circle cx="16.8" cy="26.8" r="4.2"/><circle cx="-11.8" cy="-29.2" r="4.2"/><circle cx="-13.8" cy="28.3" r="4.2"/><circle cx="31" cy="-5.5" r="4.2"/><circle cx="10.7" cy="-29.6" r="4.2"/><circle cx="-20.4" cy="23.5" r="4.2"/><circle cx="-30.6" cy="-3.6" r="4.2"/><circle cx="-1.4" cy="30.5" r="4.2"/><circle cx="30.4" cy="0.9" r="4.2"/><circle cx="-28" cy="-11" r="4.2"/><circle cx="-0.2" cy="-29.8" r="4.2"/><circle cx="21.3" cy="-20.8" r="4.2"/><circle cx="-23.4" cy="-18.2" r="4.2"/><circle cx="-27.6" cy="10.7" r="4.2"/><circle cx="-15.8" cy="-24.8" r="4.2"/><circle cx="28.3" cy="7" r="4.2"/><circle cx="13.7" cy="-25.5" r="4.2"/><circle cx="4.4" cy="28.4" r="4.2"/><circle cx="25.4" cy="-13.1" r="4.2"/><circle cx="-8.6" cy="27.1" r="4.2"/><circle cx="25" cy="12.6" r="4.2"/><circle cx="5.5" cy="-27.4" r="4.2"/><circle cx="-22.1" cy="17.1" r="4.2"/><circle cx="-27.6" cy="3.4" r="4.2"/><circle cx="-7.6" cy="-26.4" r="4.2"/><circle cx="-15.6" cy="22.6" r="4.2"/><circle cx="10.2" cy="25.5" r="4.2"/><circle cx="20.8" cy="17.6" r="4.2"/><circle cx="26.4" cy="-6.1" r="4.2"/><circle cx="15.8" cy="21.9" r="4.2"/><circle cx="-26.3" cy="-4.2" r="4.2"/><circle cx="-17.7" cy="-19.4" r="4.2"/><circle cx="-23.3" cy="-11.9" r="4.2"/><circle cx="-2.9" cy="25.4" r="4.2"/><circle cx="20.2" cy="-15.6" r="4.2"/><circle cx="-1.5" cy="-25.3" r="4.2"/><circle cx="25.3" cy="0.3" r="4.2"/><circle cx="-23" cy="10" r="4.2"/><circle cx="14.6" cy="-20" r="4.2"/><circle cx="-10.8" cy="-21.5" r="4.2"/><circle cx="7.9" cy="-22.7" r="4.2"/><circle cx="-10.2" cy="21.3" r="4.2"/><circle cx="22.7" cy="6.2" r="4.2"/><circle cx="-17.1" cy="16.1" r="4.2"/><circle cx="2.9" cy="23" r="4.2"/><circle cx="-22.8" cy="2.5" r="4.2"/><circle cx="21.1" cy="-8" r="4.2"/><circle cx="-17.6" cy="-13.4" r="4.2"/><circle cx="18.8" cy="11.5" r="4.2"/><circle cx="-21.2" cy="-5.3" r="4.2"/><circle cx="8.7" cy="19.9" r="4.2"/><circle cx="14.1" cy="16" r="4.2"/><circle cx="2.7" cy="-19.9" r="4.2"/><circle cx="-4.1" cy="-19.6" r="4.2"/><circle cx="-17.8" cy="8.9" r="4.2"/><circle cx="-4.5" cy="19.3" r="4.2"/><circle cx="19.6" cy="-1.5" r="4.2"/><circle cx="11" cy="-16" r="4.2"/><circle cx="15.7" cy="-11.3" r="4.2"/><circle cx="-11.2" cy="-15.8" r="4.2"/><circle cx="-11.5" cy="14.5" r="4.2"/><circle cx="-17.4" cy="1.1" r="4.2"/><circle cx="-15.5" cy="-7.1" r="4.2"/><circle cx="16.4" cy="4.2" r="4.2"/><circle cx="1.4" cy="16.7" r="4.2"/><circle cx="12.1" cy="9.2" r="4.2"/><circle cx="7" cy="13.3" r="4.2"/><circle cx="4.6" cy="-13.9" r="4.2"/><circle cx="13.8" cy="-4.5" r="4.2"/><circle cx="-3.3" cy="-13.8" r="4.2"/><circle cx="-12.1" cy="7.1" r="4.2"/><circle cx="-9.5" cy="-9.8" r="4.2"/><circle cx="-5.7" cy="12.4" r="4.2"/><circle cx="8.6" cy="-8.7" r="4.2"/><circle cx="-11.7" cy="-1" r="4.2"/><circle cx="10.2" cy="1.1" r="4.2"/><circle cx="0" cy="9.4" r="4.2"/><circle cx="-0.3" cy="-8.2" r="4.2"/><circle cx="5.4" cy="5.7" r="4.2"/><circle cx="-6.3" cy="4.6" r="4.2"/><circle cx="-5.8" cy="-4" r="4.2"/><circle cx="4.4" cy="-3.1" r="4.2"/><circle cx="-0.7" cy="1.2" r="4.2"/></g><circle r="40" fill="url(#sGas)"/></symbol>
<radialGradient id="sRab" cx="0.46" cy="0.43" r="0.58"><stop offset="0" stop-color="#e6747e"/><stop offset="0.18" stop-color="#e6747e"/><stop offset="0.6" stop-color="#be2631"/><stop offset="1" stop-color="#700c18"/></radialGradient>
<radialGradient id="sRas" cx="0.45" cy="0.42" r="0.6"><stop offset="0" stop-color="#000" stop-opacity="0"/><stop offset="0.7" stop-color="#000" stop-opacity="0.02"/><stop offset="1" stop-color="#000" stop-opacity="0.3"/></radialGradient>
<symbol id="sRa" viewBox="-41 -41 82 82" overflow="visible"><circle r="39.7" fill="#700c18"/><g clip-path="url(#sclip)" fill="url(#sRab)"><circle cx="-13.1" cy="35.1" r="5"/><circle cx="28.6" cy="-24.3" r="5"/><circle cx="-28.5" cy="-24.4" r="5"/><circle cx="13.2" cy="35.1" r="5"/><circle cx="-36.4" cy="-9.2" r="5"/><circle cx="5.4" cy="-37.1" r="5"/><circle cx="-36.7" cy="7.9" r="5"/><circle cx="-5.5" cy="37.1" r="5"/><circle cx="37.4" cy="-1.1" r="5"/><circle cx="3.7" cy="37.2" r="5"/><circle cx="36.4" cy="-8.9" r="5"/><circle cx="20.1" cy="31.6" r="5"/><circle cx="-18.6" cy="32.5" r="5"/><circle cx="36.8" cy="6.5" r="5"/><circle cx="-14.2" cy="-34.6" r="5"/><circle cx="33.6" cy="-16.3" r="5"/><circle cx="-32.7" cy="-18" r="5"/><circle cx="23" cy="-29.4" r="5"/><circle cx="34.7" cy="13.9" r="5"/><circle cx="-6.9" cy="-36.7" r="5"/><circle cx="26.1" cy="26.6" r="5"/><circle cx="-34" cy="15.3" r="5"/><circle cx="31" cy="20.7" r="5"/><circle cx="15.9" cy="-33.7" r="5"/><circle cx="-20.9" cy="-30.9" r="5"/><circle cx="-37.2" cy="-1.5" r="5"/><circle cx="-24.4" cy="28" r="5"/><circle cx="-29.7" cy="22.2" r="5"/><circle cx="28.9" cy="-23.2" r="5"/><circle cx="-26.4" cy="-25.7" r="5"/><circle cx="0.3" cy="-36.8" r="5"/><circle cx="-10.5" cy="35.2" r="5"/><circle cx="10.4" cy="35.3" r="5"/><circle cx="-35" cy="-10.8" r="5"/><circle cx="9.6" cy="-35.3" r="5"/><circle cx="-35.9" cy="6.3" r="5"/><circle cx="-0.3" cy="36.4" r="5"/><circle cx="17" cy="31.8" r="5"/><circle cx="35.1" cy="-7.8" r="5"/><circle cx="-30.2" cy="-19.4" r="5"/><circle cx="35.9" cy="0" r="5"/><circle cx="-16.4" cy="31.8" r="5"/><circle cx="32.2" cy="-15.6" r="5"/><circle cx="34.8" cy="7.7" r="5"/><circle cx="21.3" cy="-28.6" r="5"/><circle cx="-9.3" cy="-34.4" r="5"/><circle cx="-32.8" cy="13.9" r="5"/><circle cx="-16.4" cy="-31.5" r="5"/><circle cx="23" cy="27.1" r="5"/><circle cx="32.2" cy="14.9" r="5"/><circle cx="-35.3" cy="-3" r="5"/><circle cx="28.1" cy="21.4" r="5"/><circle cx="-22.5" cy="26.9" r="5"/><circle cx="-28.2" cy="20.9" r="5"/><circle cx="26.4" cy="-23" r="5"/><circle cx="14.5" cy="-31.7" r="5"/><circle cx="5.8" cy="34.3" r="5"/><circle cx="-22.1" cy="-26.8" r="5"/><circle cx="-5.9" cy="34.1" r="5"/><circle cx="-0.7" cy="-34.6" r="5"/><circle cx="-32.1" cy="-12.2" r="5"/><circle cx="6.5" cy="-33.3" r="5"/><circle cx="-33.6" cy="4.8" r="5"/><circle cx="12.1" cy="31" r="5"/><circle cx="-25.9" cy="-20.8" r="5"/><circle cx="32" cy="-7.9" r="5"/><circle cx="28.6" cy="-16.2" r="5"/><circle cx="-12.3" cy="30.5" r="5"/><circle cx="32.6" cy="0.2" r="5"/><circle cx="-7.7" cy="-31.6" r="5"/><circle cx="-30" cy="12.4" r="5"/><circle cx="-32" cy="-4.5" r="5"/><circle cx="18.1" cy="26.6" r="5"/><circle cx="31.1" cy="7.9" r="5"/><circle cx="-0.2" cy="32" r="5"/><circle cx="20.3" cy="-24.7" r="5"/><circle cx="-18.9" cy="25.6" r="5"/><circle cx="-14.9" cy="-28" r="5"/><circle cx="28" cy="14.9" r="5"/><circle cx="23.6" cy="21.2" r="5"/><circle cx="-24.9" cy="19.4" r="5"/><circle cx="11" cy="-29.3" r="5"/><circle cx="-27.6" cy="-13.8" r="5"/><circle cx="-29.8" cy="3.2" r="5"/><circle cx="-19.5" cy="-22.5" r="5"/><circle cx="23" cy="-18.6" r="5"/><circle cx="5.9" cy="29" r="5"/><circle cx="-1.6" cy="-29.5" r="5"/><circle cx="-7" cy="28.5" r="5"/><circle cx="27.3" cy="-9.3" r="5"/><circle cx="14.5" cy="-24.4" r="5"/><circle cx="-27.2" cy="-6.3" r="5"/><circle cx="-25.8" cy="10.8" r="5"/><circle cx="27.8" cy="-0.8" r="5"/><circle cx="12" cy="24.9" r="5"/><circle cx="-13.9" cy="23.6" r="5"/><circle cx="5.1" cy="-26.7" r="5"/><circle cx="-10.2" cy="-25.1" r="5"/><circle cx="-20.4" cy="17.7" r="5"/><circle cx="26" cy="6.9" r="5"/><circle cx="-21.6" cy="-15.9" r="5"/><circle cx="17.7" cy="19.8" r="5"/><circle cx="22.5" cy="13.8" r="5"/><circle cx="-1.1" cy="25.6" r="5"/><circle cx="21.6" cy="-12.4" r="5"/><circle cx="-24.8" cy="1.3" r="5"/><circle cx="-3.2" cy="-24" r="5"/><circle cx="15.5" cy="-17.9" r="5"/><circle cx="-13.8" cy="-19" r="5"/><circle cx="-21.3" cy="-8.7" r="5"/><circle cx="-8.1" cy="21" r="5"/><circle cx="22.2" cy="-3.3" r="5"/><circle cx="7.8" cy="-21.1" r="5"/><circle cx="5.1" cy="21.9" r="5"/><circle cx="-20.5" cy="8.6" r="5"/><circle cx="-14.8" cy="15.3" r="5"/><circle cx="20.1" cy="4.5" r="5"/><circle cx="10.9" cy="17.1" r="5"/><circle cx="16.1" cy="11.3" r="5"/><circle cx="-18.8" cy="-1.4" r="5"/><circle cx="-14.3" cy="-12.1" r="5"/><circle cx="-6.1" cy="-17.1" r="5"/><circle cx="16.4" cy="-7.4" r="5"/><circle cx="1.7" cy="-17.6" r="5"/><circle cx="-2" cy="17.6" r="5"/><circle cx="11.2" cy="-13.1" r="5"/><circle cx="-14.5" cy="5.7" r="5"/><circle cx="-8.8" cy="12.1" r="5"/><circle cx="13.9" cy="0.8" r="5"/><circle cx="4" cy="13.1" r="5"/><circle cx="-12.2" cy="-5" r="5"/><circle cx="9.5" cy="7.6" r="5"/><circle cx="-5.3" cy="-10.1" r="5"/><circle cx="3.8" cy="-10.4" r="5"/><circle cx="8.2" cy="-4.2" r="5"/><circle cx="-8.2" cy="1.8" r="5"/><circle cx="-2.6" cy="7.9" r="5"/><circle cx="3.3" cy="2.6" r="5"/><circle cx="-1.9" cy="-3.4" r="5"/></g><circle r="40" fill="url(#sRas)"/></symbol>
<radialGradient id="glG"><stop offset="0.66" stop-color="#5ea616" stop-opacity="1"/><stop offset="0.76" stop-color="#76b820" stop-opacity="0.85"/><stop offset="0.88" stop-color="#9cca38" stop-opacity="0.4"/><stop offset="1" stop-color="#c8dc58" stop-opacity="0"/></radialGradient>
<radialGradient id="glR"><stop offset="0.66" stop-color="#d8340e" stop-opacity="1"/><stop offset="0.76" stop-color="#e24a1c" stop-opacity="0.88"/><stop offset="0.88" stop-color="#f08040" stop-opacity="0.42"/><stop offset="1" stop-color="#f8b070" stop-opacity="0"/></radialGradient>
<filter id="blur5" x="-50%" y="-50%" width="200%" height="200%"><feGaussianBlur stdDeviation="4.8"/></filter>
<linearGradient id="rod" x1="0" x2="1" y1="0" y2="0"><stop offset="0" stop-color="#050608"/><stop offset="0.55" stop-color="#0a1822"/><stop offset="1" stop-color="#1c5c98"/></linearGradient>
<clipPath id="wc23"><path d="M736.2 110.3V146.5H769.2Q753.4 127 736.2 110.3Z"/></clipPath>
<clipPath id="wc24"><path d="M736.2 232.8V267.8H775.5Q756.6 248.9 736.2 232.8Z"/></clipPath>
<clipPath id="wc25"><path d="M735.1 376.6V405.8H761.8Q749 390 735.1 376.6Z"/></clipPath>
<radialGradient id="cyc"><stop offset="0" stop-color="#b4b9b7"/><stop offset="0.74" stop-color="#b6bbb9"/><stop offset="0.81" stop-color="#c3c7c5"/><stop offset="0.885" stop-color="#dcdfde"/><stop offset="0.95" stop-color="#f5f6f5"/><stop offset="1" stop-color="#ffffff"/></radialGradient>
<clipPath id="wc27"><path d="M288.2 551.2V588.4H321.2Q305.4 568.3 288.2 551.2Z"/></clipPath>
<clipPath id="wc28"><path d="M393.7 550.1V588.4H432.9Q414.1 567.7 393.7 550.1Z"/></clipPath>
<clipPath id="wc29"><path d="M491.2 560.4V590.6H518.8Q505.6 574.3 491.2 560.4Z"/></clipPath>
<clipPath id="wc30"><path d="M26.6 1005.5V1039.9H58.2Q43 1021.3 26.6 1005.5Z"/></clipPath>
<clipPath id="wc31"><path d="M116.1 1001V1039.6H156.8Q137.3 1018.8 116.1 1001Z"/></clipPath>
<clipPath id="wc32"><path d="M185.7 1010.6V1043.6H216.3Q201.6 1025.8 185.7 1010.6Z"/></clipPath>
<clipPath id="wc33"><path d="M457 1014.5V1049.1H486.5Q472.3 1030.4 457 1014.5Z"/></clipPath>
<clipPath id="wc34"><path d="M495.2 1068V1106.2H531.6Q514.1 1085.6 495.2 1068Z"/></clipPath>
<clipPath id="wc35"><path d="M539.6 1128.6V1162.6H569.4Q555.1 1144.2 539.6 1128.6Z"/></clipPath>
<clipPath id="wc36"><path d="M716.7 676.8V705.6H751.1Q734.6 690 716.7 676.8Z"/></clipPath>
<clipPath id="wc37"><path d="M735.6 719.5V757.2H773.3Q755.2 736.8 735.6 719.5Z"/></clipPath>
<clipPath id="wc38"><path d="M756.7 793.2V822.6H791.6Q774.8 806.7 756.7 793.2Z"/></clipPath>
<linearGradient id="bB" x1="0" x2="1"><stop offset="0" stop-color="#163f66"/><stop offset="0.08" stop-color="#20557f"/><stop offset="0.92" stop-color="#20557f"/><stop offset="1" stop-color="#163f66"/></linearGradient>
<linearGradient id="bG" x1="0" x2="1"><stop offset="0" stop-color="#2c4a22"/><stop offset="0.08" stop-color="#3f5f2f"/><stop offset="0.92" stop-color="#3f5f2f"/><stop offset="1" stop-color="#2c4a22"/></linearGradient>
<linearGradient id="bR" x1="0" x2="1"><stop offset="0" stop-color="#9a1016"/><stop offset="0.08" stop-color="#c0181e"/><stop offset="0.92" stop-color="#c0181e"/><stop offset="1" stop-color="#9a1016"/></linearGradient>
<filter id="blur2" x="-50%" y="-50%" width="200%" height="200%"><feGaussianBlur stdDeviation="1.1"/></filter>
<clipPath id="mc43"><rect x="1230" y="724.2" width="151.4" height="126.5"/></clipPath>
<clipPath id="mc44"><rect x="1385.9" y="724.2" width="156.4" height="124.1"/></clipPath>
<clipPath id="mc45"><rect x="1546.8" y="722.9" width="155.4" height="124.1"/></clipPath>
</defs>
<rect width="1867" height="1461" fill="#fffffa"/>
<rect x="0" y="0" width="914" height="492" fill="#ffec9c"/>
<rect x="0" y="492" width="914" height="791" fill="#e1efe8"/>
<rect x="914" y="0" width="953" height="1283" fill="#fad8ac"/>
<rect x="0" y="0" width="1867" height="2" fill="#c2c2bc"/>
<rect x="0" y="0" width="1.2" height="1461" fill="#b8b090"/>
<rect x="1865" y="0" width="2" height="1461" fill="#b8b8b4"/>
<rect x="0" y="1459" width="1867" height="2" fill="#b8b8b4"/>
<rect x="0" y="490.8" width="914" height="2" fill="#b2ae94"/>
<rect x="913.5" y="0" width="1.5" height="1283" fill="#b8b0a2"/>
<rect x="915" y="0" width="1" height="1283" fill="#fce8d0"/>
<rect x="0" y="1282.3" width="1867" height="1.8" fill="#b0b0ac"/>
<g id="panelA"><text x="17" y="52.4" font-size="61" text-anchor="start" font-weight="normal" fill="#1c1612" >A</text><text x="25.4" y="175" font-size="34.5" fill="#1c1612">216.83 nm SiO<tspan font-size="18" dy="12.5" dx="0.5">2</tspan></text><text x="25.4" y="310" font-size="34.5" fill="#1c1612">236.25 nm SiO<tspan font-size="18" dy="12.5" dx="0.5">2</tspan></text><text x="25.4" y="436.3" font-size="34.5" fill="#1c1612">249.09 nm SiO<tspan font-size="18" dy="12.5" dx="0.5">2</tspan></text><circle cx="131" cy="138.2" r="6.8" fill="#0c0a0a"/><circle cx="131.3" cy="270.5" r="9.1" fill="#0c0a0a"/><circle cx="131.3" cy="392.5" r="11.4" fill="#0c0a0a"/><text x="358.5" y="278" font-size="35.1" text-anchor="middle" font-weight="normal" fill="#1c1612" >Silicon oil</text><polygon points="273,299.9 416.8,299.9 413,294.5 434,302.5 413,310.5 416.8,305.1 273,305.1" fill="#1c1612"/><text x="351.3" y="339.7" font-size="35.1" text-anchor="middle" font-weight="normal" fill="#1c1612" >Microfluidic</text><text x="351.7" y="381" font-size="35.4" text-anchor="middle" font-weight="normal" fill="#1c1612" >device</text><text x="458.8" y="51.9" font-size="34.3" text-anchor="start" font-weight="normal" fill="#1c1612" >Laser</text><text x="595.6" y="38.3" font-size="34.3" text-anchor="start" font-weight="normal" fill="#1c1612" >495 nm</text><g transform="translate(563.5,34) rotate(52)"><ellipse cx="51" cy="2" rx="28" ry="17.5" transform="rotate(-10 51 2)" fill="#4674c2" filter="url(#blur5)"/><line x1="36" y1="0" x2="68" y2="2" stroke="#2a6cb8" stroke-width="1.3"/><rect x="-1" y="-3.4" width="40.5" height="6.8" rx="3.4" fill="url(#rod)"/><circle cx="36" cy="0" r="1.7" fill="#5a90c8"/></g><use href="#sBa" x="458.2" y="135.3" width="80" height="80"/><use href="#sGa" x="457.5" y="267.4" width="81.4" height="81.4"/><use href="#sRa" x="457.8" y="389.9" width="80.8" height="80.8"/><polygon points="545,173.5 599,173.5 595.6,168.3 614.6,176.3 595.6,184.3 599,179.1 545,179.1" fill="#1c1612"/><polygon points="542.7,300.2 597.3,300.2 593.9,295 612.9,303 593.9,311 597.3,305.8 542.7,305.8" fill="#1c1612"/><polygon points="545,438.8 599,438.8 595.6,433.6 614.6,441.6 595.6,449.6 599,444.4 545,444.4" fill="#1c1612"/><path d="M571.2 172V165A2.6 2.6 0 1 1 573.8 165V171" fill="none" stroke="#5aa6d6" stroke-width="0.8"/><path d="M571.2 298.5V291.5A2.6 2.6 0 1 1 573.8 291.5V297.5" fill="none" stroke="#8cc04a" stroke-width="0.8"/><path d="M571.2 437V430A2.6 2.6 0 1 1 573.8 430V436" fill="none" stroke="#b04890" stroke-width="0.8"/><circle cx="661.7" cy="162" r="58.5" fill="url(#glG)" opacity="0.85"/><path d="M668.4 122.8L669.4 111.4M666.7 122.7L667.7 111.2" stroke="#3e98d2" stroke-width="0.9" fill="none"/><ellipse cx="668.9" cy="107.5" rx="4.4" ry="3.4" transform="rotate(-85 668.9 107.5)" fill="none" stroke="#3e98d2" stroke-width="1"/><path d="M687 130.1L693.6 120.6M685.5 129L692.1 119.6" stroke="#3e98d2" stroke-width="0.9" fill="none"/><ellipse cx="695" cy="117" rx="4.4" ry="3.4" transform="rotate(-55 695 117)" fill="none" stroke="#3e98d2" stroke-width="1"/><path d="M699.4 145.6L709.8 140.7M698.6 144L709 139.1" stroke="#3e98d2" stroke-width="0.9" fill="none"/><ellipse cx="712.9" cy="138.3" rx="4.4" ry="3.4" transform="rotate(-25 712.9 138.3)" fill="none" stroke="#3e98d2" stroke-width="1"/><path d="M702.4 165.2L713.8 166.2M702.5 163.5L714 164.5" stroke="#3e98d2" stroke-width="0.9" fill="none"/><ellipse cx="717.7" cy="165.7" rx="4.4" ry="3.4" transform="rotate(5 717.7 165.7)" fill="none" stroke="#3e98d2" stroke-width="1"/><path d="M695.1 183.8L704.6 190.4M696.2 182.3L705.6 188.9" stroke="#3e98d2" stroke-width="0.9" fill="none"/><ellipse cx="708.2" cy="191.8" rx="4.4" ry="3.4" transform="rotate(35 708.2 191.8)" fill="none" stroke="#3e98d2" stroke-width="1"/><path d="M679.6 196.2L684.5 206.6M681.2 195.4L686.1 205.8" stroke="#3e98d2" stroke-width="0.9" fill="none"/><ellipse cx="686.9" cy="209.7" rx="4.4" ry="3.4" transform="rotate(65 686.9 209.7)" fill="none" stroke="#3e98d2" stroke-width="1"/><path d="M660 199.2L659 210.6M661.7 199.3L660.7 210.8" stroke="#3e98d2" stroke-width="0.9" fill="none"/><ellipse cx="659.5" cy="214.5" rx="4.4" ry="3.4" transform="rotate(95 659.5 214.5)" fill="none" stroke="#3e98d2" stroke-width="1"/><path d="M641.4 191.9L634.8 201.4M642.9 193L636.3 202.4" stroke="#3e98d2" stroke-width="0.9" fill="none"/><ellipse cx="633.4" cy="205" rx="4.4" ry="3.4" transform="rotate(125 633.4 205)" fill="none" stroke="#3e98d2" stroke-width="1"/><path d="M629 176.4L618.6 181.3M629.8 178L619.4 182.9" stroke="#3e98d2" stroke-width="0.9" fill="none"/><ellipse cx="615.5" cy="183.7" rx="4.4" ry="3.4" transform="rotate(155 615.5 183.7)" fill="none" stroke="#3e98d2" stroke-width="1"/><path d="M626 156.8L614.6 155.8M625.9 158.5L614.4 157.5" stroke="#3e98d2" stroke-width="0.9" fill="none"/><ellipse cx="610.7" cy="156.3" rx="4.4" ry="3.4" transform="rotate(185 610.7 156.3)" fill="none" stroke="#3e98d2" stroke-width="1"/><path d="M633.3 138.2L623.8 131.6M632.2 139.7L622.8 133.1" stroke="#3e98d2" stroke-width="0.9" fill="none"/><ellipse cx="620.2" cy="130.2" rx="4.4" ry="3.4" transform="rotate(215 620.2 130.2)" fill="none" stroke="#3e98d2" stroke-width="1"/><path d="M648.8 125.8L643.9 115.4M647.2 126.6L642.3 116.2" stroke="#3e98d2" stroke-width="0.9" fill="none"/><ellipse cx="641.5" cy="112.3" rx="4.4" ry="3.4" transform="rotate(245 641.5 112.3)" fill="none" stroke="#3e98d2" stroke-width="1"/><use href="#sBa" x="623.8" y="120.6" width="80.8" height="80.8"/><circle cx="665.2" cy="292" r="58.5" fill="url(#glG)" opacity="0.85"/><path d="M672 252.2L673 240.8M670.2 252.1L671.2 240.6" stroke="#84a436" stroke-width="0.9" fill="none"/><ellipse cx="672.4" cy="236.9" rx="4.4" ry="3.4" transform="rotate(-85 672.4 236.9)" fill="none" stroke="#84a436" stroke-width="1"/><path d="M690.8 259.6L697.4 250.1M689.3 258.5L695.9 249.1" stroke="#84a436" stroke-width="0.9" fill="none"/><ellipse cx="698.8" cy="246.5" rx="4.4" ry="3.4" transform="rotate(-55 698.8 246.5)" fill="none" stroke="#84a436" stroke-width="1"/><path d="M703.4 275.3L713.8 270.5M702.7 273.7L713.1 268.8" stroke="#84a436" stroke-width="0.9" fill="none"/><ellipse cx="716.9" cy="268.1" rx="4.4" ry="3.4" transform="rotate(-25 716.9 268.1)" fill="none" stroke="#84a436" stroke-width="1"/><path d="M706.5 295.3L717.9 296.3M706.6 293.5L718.1 294.5" stroke="#84a436" stroke-width="0.9" fill="none"/><ellipse cx="721.8" cy="295.7" rx="4.4" ry="3.4" transform="rotate(5 721.8 295.7)" fill="none" stroke="#84a436" stroke-width="1"/><path d="M699.1 314.1L708.6 320.7M700.2 312.6L709.6 319.2" stroke="#84a436" stroke-width="0.9" fill="none"/><ellipse cx="712.2" cy="322.1" rx="4.4" ry="3.4" transform="rotate(35 712.2 322.1)" fill="none" stroke="#84a436" stroke-width="1"/><path d="M683.4 326.7L688.2 337.1M685 326L689.9 336.4" stroke="#84a436" stroke-width="0.9" fill="none"/><ellipse cx="690.6" cy="340.2" rx="4.4" ry="3.4" transform="rotate(65 690.6 340.2)" fill="none" stroke="#84a436" stroke-width="1"/><path d="M663.4 329.8L662.4 341.2M665.2 329.9L664.2 341.4" stroke="#84a436" stroke-width="0.9" fill="none"/><ellipse cx="663" cy="345.1" rx="4.4" ry="3.4" transform="rotate(95 663 345.1)" fill="none" stroke="#84a436" stroke-width="1"/><path d="M644.6 322.4L638 331.9M646.1 323.5L639.5 332.9" stroke="#84a436" stroke-width="0.9" fill="none"/><ellipse cx="636.6" cy="335.5" rx="4.4" ry="3.4" transform="rotate(125 636.6 335.5)" fill="none" stroke="#84a436" stroke-width="1"/><path d="M632 306.7L621.6 311.5M632.7 308.3L622.3 313.2" stroke="#84a436" stroke-width="0.9" fill="none"/><ellipse cx="618.5" cy="313.9" rx="4.4" ry="3.4" transform="rotate(155 618.5 313.9)" fill="none" stroke="#84a436" stroke-width="1"/><path d="M628.9 286.7L617.5 285.7M628.8 288.5L617.3 287.5" stroke="#84a436" stroke-width="0.9" fill="none"/><ellipse cx="613.6" cy="286.3" rx="4.4" ry="3.4" transform="rotate(185 613.6 286.3)" fill="none" stroke="#84a436" stroke-width="1"/><path d="M636.3 267.9L626.8 261.3M635.2 269.4L625.8 262.8" stroke="#84a436" stroke-width="0.9" fill="none"/><ellipse cx="623.2" cy="259.9" rx="4.4" ry="3.4" transform="rotate(215 623.2 259.9)" fill="none" stroke="#84a436" stroke-width="1"/><path d="M652 255.3L647.2 244.9M650.4 256L645.5 245.6" stroke="#84a436" stroke-width="0.9" fill="none"/><ellipse cx="644.8" cy="241.8" rx="4.4" ry="3.4" transform="rotate(245 644.8 241.8)" fill="none" stroke="#84a436" stroke-width="1"/><use href="#sGa" x="626.7" y="250" width="82" height="82"/><circle cx="661.7" cy="428" r="58.5" fill="url(#glG)" opacity="0.85"/><path d="M668.4 388.8L669.4 377.4M666.7 388.7L667.7 377.2" stroke="#a43680" stroke-width="0.9" fill="none"/><ellipse cx="668.9" cy="373.5" rx="4.4" ry="3.4" transform="rotate(-85 668.9 373.5)" fill="none" stroke="#a43680" stroke-width="1"/><path d="M687 396.1L693.6 386.6M685.5 395L692.1 385.6" stroke="#a43680" stroke-width="0.9" fill="none"/><ellipse cx="695" cy="383" rx="4.4" ry="3.4" transform="rotate(-55 695 383)" fill="none" stroke="#a43680" stroke-width="1"/><path d="M699.4 411.6L709.8 406.7M698.6 410L709 405.1" stroke="#a43680" stroke-width="0.9" fill="none"/><ellipse cx="712.9" cy="404.3" rx="4.4" ry="3.4" transform="rotate(-25 712.9 404.3)" fill="none" stroke="#a43680" stroke-width="1"/><path d="M702.4 431.2L713.8 432.2M702.5 429.5L714 430.5" stroke="#a43680" stroke-width="0.9" fill="none"/><ellipse cx="717.7" cy="431.7" rx="4.4" ry="3.4" transform="rotate(5 717.7 431.7)" fill="none" stroke="#a43680" stroke-width="1"/><path d="M695.1 449.8L704.6 456.4M696.2 448.3L705.6 454.9" stroke="#a43680" stroke-width="0.9" fill="none"/><ellipse cx="708.2" cy="457.8" rx="4.4" ry="3.4" transform="rotate(35 708.2 457.8)" fill="none" stroke="#a43680" stroke-width="1"/><path d="M679.6 462.2L684.5 472.6M681.2 461.4L686.1 471.8" stroke="#a43680" stroke-width="0.9" fill="none"/><ellipse cx="686.9" cy="475.7" rx="4.4" ry="3.4" transform="rotate(65 686.9 475.7)" fill="none" stroke="#a43680" stroke-width="1"/><path d="M660 465.2L659 476.6M661.7 465.3L660.7 476.8" stroke="#a43680" stroke-width="0.9" fill="none"/><ellipse cx="659.5" cy="480.5" rx="4.4" ry="3.4" transform="rotate(95 659.5 480.5)" fill="none" stroke="#a43680" stroke-width="1"/><path d="M641.4 457.9L634.8 467.4M642.9 459L636.3 468.4" stroke="#a43680" stroke-width="0.9" fill="none"/><ellipse cx="633.4" cy="471" rx="4.4" ry="3.4" transform="rotate(125 633.4 471)" fill="none" stroke="#a43680" stroke-width="1"/><path d="M629 442.4L618.6 447.3M629.8 444L619.4 448.9" stroke="#a43680" stroke-width="0.9" fill="none"/><ellipse cx="615.5" cy="449.7" rx="4.4" ry="3.4" transform="rotate(155 615.5 449.7)" fill="none" stroke="#a43680" stroke-width="1"/><path d="M626 422.8L614.6 421.8M625.9 424.5L614.4 423.5" stroke="#a43680" stroke-width="0.9" fill="none"/><ellipse cx="610.7" cy="422.3" rx="4.4" ry="3.4" transform="rotate(185 610.7 422.3)" fill="none" stroke="#a43680" stroke-width="1"/><path d="M633.3 404.2L623.8 397.6M632.2 405.7L622.8 399.1" stroke="#a43680" stroke-width="0.9" fill="none"/><ellipse cx="620.2" cy="396.2" rx="4.4" ry="3.4" transform="rotate(215 620.2 396.2)" fill="none" stroke="#a43680" stroke-width="1"/><path d="M648.8 391.8L643.9 381.4M647.2 392.6L642.3 382.2" stroke="#a43680" stroke-width="0.9" fill="none"/><ellipse cx="641.5" cy="378.3" rx="4.4" ry="3.4" transform="rotate(245 641.5 378.3)" fill="none" stroke="#a43680" stroke-width="1"/><use href="#sRa" x="623.8" y="386.6" width="80.8" height="80.8"/><rect x="691" y="118.1" width="22.9" height="18.4" fill="none" stroke="#1c1612" stroke-width="2.6" stroke-dasharray="4.4 2.4"/><path d="M713.9 118.1L733 100.1M713.9 136.5L733 154.5" stroke="#1c1612" stroke-width="2.5" stroke-dasharray="6.2 3.6" fill="none"/><rect x="696.1" y="247.2" width="22.9" height="18.3" fill="none" stroke="#1c1612" stroke-width="2.6" stroke-dasharray="4.4 2.4"/><path d="M719 247.2L737 229.2M719 265.5L737 283.5" stroke="#1c1612" stroke-width="2.5" stroke-dasharray="6.2 3.6" fill="none"/><rect x="692.7" y="383.4" width="22.9" height="18.4" fill="none" stroke="#1c1612" stroke-width="2.6" stroke-dasharray="4.4 2.4"/><path d="M715.6 383.4L734 366.4M715.6 401.8L734 419.8" stroke="#1c1612" stroke-width="2.5" stroke-dasharray="6.2 3.6" fill="none"/><g clip-path="url(#wc23)"><rect x="736.2" y="110.3" width="33" height="36.2" fill="#0f5d9c"/><ellipse cx="736.2" cy="146.5" rx="25.1" ry="31.1" fill="#0c5290"/><ellipse cx="736.2" cy="146.5" rx="18.5" ry="23.9" fill="#0a467e"/><ellipse cx="736.2" cy="146.5" rx="11.9" ry="15.9" fill="#093c6e"/></g><g clip-path="url(#wc24)"><rect x="736.2" y="232.8" width="39.3" height="35" fill="#178a62"/><ellipse cx="736.2" cy="267.8" rx="29.9" ry="30.1" fill="#127a56"/><ellipse cx="736.2" cy="267.8" rx="22" ry="23.1" fill="#0d6848"/><ellipse cx="736.2" cy="267.8" rx="14.1" ry="15.4" fill="#0a583c"/></g><g clip-path="url(#wc25)"><rect x="735.1" y="376.6" width="26.7" height="29.2" fill="#b8242c"/><ellipse cx="735.1" cy="405.8" rx="20.3" ry="25.1" fill="#a41c24"/><ellipse cx="735.1" cy="405.8" rx="15" ry="19.3" fill="#8c161e"/><ellipse cx="735.1" cy="405.8" rx="9.6" ry="12.8" fill="#741018"/></g><path d="M757.2 129.5L805.9 87.2A16.4 16.4 0 1 1 815.5 98.2L780 129.1" fill="none" stroke="#3a94ca" stroke-width="3" stroke-linejoin="round"/><polygon points="781.7,124 783.3,128.9 788.3,130.3 784.1,133.4 784.3,138.6 780.1,135.6 775.2,137.3 776.8,132.4 773.6,128.3 778.8,128.3" fill="#5c9a2e"/><path d="M755.3 242.1L796.8 206A16.2 16.2 0 1 1 806.4 217L771.7 247.2" fill="none" stroke="#6a9e34" stroke-width="3" stroke-linejoin="round"/><polygon points="779.3,239.5 780.9,244.4 785.9,245.8 781.7,248.9 781.9,254.1 777.7,251.1 772.8,252.8 774.4,247.9 771.2,243.8 776.4,243.8" fill="#5c9a2e"/><path d="M750.5 388.1L793.8 351A14.6 14.6 0 1 1 802.3 360.9L768.4 389.8" fill="none" stroke="#8e2488" stroke-width="3" stroke-linejoin="round"/><polygon points="774.9,382.6 776.5,387.5 781.5,388.9 777.3,392 777.5,397.2 773.3,394.2 768.4,395.9 770,391 766.8,386.9 772,386.9" fill="#5c9a2e"/></g>
<g id="panelB"><text x="19" y="543.7" font-size="60" text-anchor="start" font-weight="normal" fill="#1c1612" >B</text><circle cx="396.5" cy="881" r="254" fill="#ffffff"/><circle cx="407" cy="889" r="236" fill="url(#cyc)"/><path d="M309.6 567.9L357.4 528.4A16.2 16.2 0 1 1 366.6 539.6L333.5 567" fill="none" stroke="#3a94ca" stroke-width="3.2" stroke-linejoin="round"/><polygon points="332.6,565.4 334.2,570.3 339.2,571.7 335,574.8 335.2,580 331,577 326.1,578.7 327.7,573.8 324.5,569.7 329.7,569.7" fill="#5c9a2e"/><path d="M408.5 562.7L454.8 524.5A15.8 15.8 0 1 1 464 535.7L434.7 559.9" fill="none" stroke="#6a9e34" stroke-width="3.2" stroke-linejoin="round"/><polygon points="435.1,558.3 436.7,563.2 441.7,564.6 437.5,567.7 437.7,572.9 433.5,569.9 428.6,571.6 430.2,566.7 427,562.6 432.2,562.6" fill="#5c9a2e"/><path d="M504.3 573L550.6 534.8A14.3 14.3 0 1 1 558.7 544.7L526.3 571.4" fill="none" stroke="#8e2488" stroke-width="3.2" stroke-linejoin="round"/><polygon points="531.1,567.6 532.7,572.5 537.7,573.9 533.5,577 533.7,582.2 529.5,579.2 524.6,580.9 526.2,576 523,571.9 528.2,571.9" fill="#5c9a2e"/><path d="M385.6 622.4H427.6M406.6 601.4V643.4" stroke="#1c1612" stroke-width="4.2" fill="none"/><line x1="359" y1="654.2" x2="462" y2="656.2" stroke="#2c4e90" stroke-width="3" stroke-linecap="butt"/><line x1="357.2" y1="681.2" x2="462.5" y2="683" stroke="#7dcaa8" stroke-width="3" stroke-linecap="butt"/><line x1="355.4" y1="701.8" x2="464" y2="703.6" stroke="#f4b183" stroke-width="3" stroke-linecap="butt"/><text x="408.8" y="759.2" font-size="28.5" text-anchor="middle" font-weight="normal" fill="#1c1612"  textLength="92.7" lengthAdjust="spacingAndGlyphs">miRNA</text><text x="421.4" y="899" font-size="82" text-anchor="middle" fill="#1c1612" textLength="198" lengthAdjust="spacingAndGlyphs" transform="rotate(-1.7 421.4 880)">cycles</text><path d="M310.1 705.4C262 712 212 768 197.7 862" fill="none" stroke="#1a1418" stroke-width="2.5" stroke-dasharray="3.8 2.8"/><polygon points="202.1,900.5 186.1,864.2 208.9,861.4" fill="#544c5a" stroke="#1a1418" stroke-width="1.6" stroke-dasharray="3 2" stroke-linejoin="miter"/><path d="M593.5 954.9C618 900 616 820 561 750" fill="none" stroke="#1a1418" stroke-width="2.5" stroke-dasharray="3.8 2.8"/><polygon points="536.1,725.4 572.1,742.5 555.7,760.1" fill="#544c5a" stroke="#1a1418" stroke-width="1.6" stroke-dasharray="3 2" stroke-linejoin="miter"/><path d="M606.7 834.3C608 790 640 760 677.4 753.5" fill="none" stroke="#1a1418" stroke-width="2.5" stroke-dasharray="3.8 2.8"/><polygon points="704.8,744.3 667.4,743.6 681.2,751.6 671.6,763.1" fill="#544c5a" stroke="#1a1418" stroke-width="1.4" stroke-linejoin="miter"/><path d="M267.1 1037.8C298 1072 372 1098 421.4 1080.7" fill="none" stroke="#1a1418" stroke-width="2.5" stroke-dasharray="3.8 2.8"/><polygon points="449.2,1068.9 423.8,1087.7 417.6,1068.7" fill="#544c5a" stroke="#1a1418" stroke-width="1.6" stroke-dasharray="3 2" stroke-linejoin="miter"/><path d="M220.4 1128.3C238 1094 268 1078 307.8 1080.7" fill="none" stroke="#1a1418" stroke-width="2.5" stroke-dasharray="3.8 2.8"/><path d="M293.9 1087.1H309" stroke="#1a1418" stroke-width="2.4"/><polygon points="327,1087 301.2,1068.2 311,1080.8 306.8,1092.4" fill="#544c5a" stroke="#1a1418" stroke-width="1.3" stroke-linejoin="miter"/><path d="M113.2 1208.8V1162.1A15 15 0 1 1 128.8 1162.1V1220" fill="none" stroke="#56525c" stroke-width="3.1"/><polygon points="131,1216.9 132.6,1221.5 137.3,1222.9 133.3,1225.8 133.5,1230.7 129.5,1227.9 124.9,1229.5 126.4,1224.8 123.3,1221 128.3,1220.9" fill="#f6b42c"/><path d="M150.9 1190.6V1143.5A14.8 14.8 0 1 1 166.9 1143.5V1206" fill="none" stroke="#b8d9ac" stroke-width="3.1"/><polygon points="169.6,1202.4 171.2,1207 175.9,1208.4 171.9,1211.3 172.1,1216.2 168.1,1213.4 163.5,1215 165,1210.3 161.9,1206.5 166.9,1206.4" fill="#f6b42c"/><path d="M183.7 1179.3V1132.3A14.8 14.8 0 1 1 199.3 1132.3V1195" fill="none" stroke="#9fa6d8" stroke-width="3.1"/><polygon points="199.6,1191.2 201.2,1195.8 205.9,1197.2 201.9,1200.1 202.1,1205 198.1,1202.2 193.5,1203.8 195,1199.1 191.9,1195.3 196.9,1195.2" fill="#f6b42c"/><line x1="38.8" y1="1017.7" x2="145.8" y2="907.9" stroke="#3a94ca" stroke-width="3.3" stroke-linecap="butt"/><line x1="48.8" y1="1023.2" x2="109.8" y2="963.4" stroke="#2c4e90" stroke-width="3.3" stroke-linecap="butt"/><polygon points="146.9,900.2 148.5,905.1 153.5,906.5 149.3,909.6 149.5,914.8 145.3,911.8 140.4,913.5 142,908.6 138.8,904.5 144,904.5" fill="#5c9a2e"/><line x1="131.9" y1="1012.2" x2="232.8" y2="900.2" stroke="#6a9e34" stroke-width="3.3" stroke-linecap="butt"/><line x1="141.4" y1="1018.8" x2="201.2" y2="952.3" stroke="#7dcaa8" stroke-width="3.3" stroke-linecap="butt"/><polygon points="233.9,892.5 235.5,897.4 240.5,898.8 236.3,901.9 236.5,907.1 232.3,904.1 227.4,905.8 229,900.9 225.8,896.8 231,896.8" fill="#5c9a2e"/><line x1="199.6" y1="1023.2" x2="302.7" y2="912.4" stroke="#8e2488" stroke-width="3.3" stroke-linecap="butt"/><line x1="209.5" y1="1028.8" x2="274.4" y2="961.2" stroke="#f4b183" stroke-width="3.3" stroke-linecap="butt"/><polygon points="303.8,904.7 305.4,909.6 310.4,911 306.2,914.1 306.4,919.3 302.2,916.3 297.3,918 298.9,913.1 295.7,909 300.9,909" fill="#5c9a2e"/><line x1="468.4" y1="1026" x2="583.1" y2="925.1" stroke="#3a94ca" stroke-width="3.3" stroke-linecap="butt"/><path d="M479.5 1033.2L521.1 1001.1L521.1 1022.1" fill="none" stroke="#2c4e90" stroke-width="3.3" stroke-linejoin="miter"/><path d="M572.1 955.6L532.2 990L583.1 977.8" fill="none" stroke="#9fa6d8" stroke-width="3.3" stroke-linejoin="miter"/><polygon points="584.2,917.4 585.8,922.3 590.8,923.7 586.6,926.8 586.8,932 582.6,929 577.7,930.7 579.3,925.8 576.1,921.7 581.3,921.7" fill="#5c9a2e"/><polygon points="573.2,948.1 574.7,952.9 579.6,954.3 575.5,957.3 575.7,962.3 571.6,959.4 566.8,961.1 568.4,956.3 565.3,952.3 570.3,952.2" fill="#f6b42c"/><line x1="508.9" y1="1081.4" x2="620.8" y2="976.1" stroke="#6a9e34" stroke-width="3.3" stroke-linecap="butt"/><path d="M518.3 1087L561 1053.7L561 1075.9" fill="none" stroke="#7dcaa8" stroke-width="3.3" stroke-linejoin="miter"/><path d="M609.8 1009.4L571 1039.9L619.7 1028.8" fill="none" stroke="#b8d9ac" stroke-width="3.3" stroke-linejoin="miter"/><polygon points="621.9,968.4 623.5,973.3 628.5,974.7 624.3,977.8 624.5,983 620.3,980 615.4,981.7 617,976.8 613.8,972.7 619,972.7" fill="#5c9a2e"/><polygon points="610.9,1001.9 612.4,1006.7 617.3,1008.1 613.2,1011.1 613.4,1016.1 609.3,1013.2 604.5,1014.9 606.1,1010.1 603,1006.1 608,1006" fill="#f6b42c"/><line x1="553.2" y1="1142.4" x2="665.2" y2="1039.9" stroke="#8e2488" stroke-width="3.3" stroke-linecap="butt"/><path d="M564.3 1150.7L605.3 1116.4L605.3 1136.9" fill="none" stroke="#f4b183" stroke-width="3.3" stroke-linejoin="miter"/><path d="M655.8 1068.7L615.3 1103.6L668 1089.8" fill="none" stroke="#56525c" stroke-width="3.3" stroke-linejoin="miter"/><polygon points="666.3,1032.2 667.9,1037.1 672.9,1038.5 668.7,1041.6 668.9,1046.8 664.7,1043.8 659.8,1045.5 661.4,1040.6 658.2,1036.5 663.4,1036.5" fill="#5c9a2e"/><polygon points="656.9,1061.2 658.4,1066 663.3,1067.4 659.2,1070.4 659.4,1075.4 655.3,1072.5 650.5,1074.2 652.1,1069.4 649,1065.4 654,1065.3" fill="#f6b42c"/><line x1="736.6" y1="695.4" x2="841.2" y2="583" stroke="#3a94ca" stroke-width="3.3" stroke-linecap="butt"/><line x1="742.8" y1="668.5" x2="813.7" y2="592.5" stroke="#9fa6d8" stroke-width="3.3" stroke-linecap="butt"/><polygon points="842.3,575.3 843.9,580.2 848.9,581.6 844.7,584.7 844.9,589.9 840.7,586.9 835.8,588.6 837.4,583.7 834.2,579.6 839.4,579.6" fill="#5c9a2e"/><polygon points="814.8,585 816.3,589.8 821.2,591.2 817.1,594.2 817.3,599.2 813.2,596.3 808.4,598 810,593.2 806.9,589.2 811.9,589.1" fill="#f6b42c"/><line x1="758.5" y1="744.1" x2="863.2" y2="632.4" stroke="#6a9e34" stroke-width="3.3" stroke-linecap="butt"/><line x1="758.3" y1="723.9" x2="833.1" y2="644.6" stroke="#b8d9ac" stroke-width="3.3" stroke-linecap="butt"/><polygon points="864.3,624.7 865.9,629.6 870.9,631 866.7,634.1 866.9,639.3 862.7,636.3 857.8,638 859.4,633.1 856.2,629 861.4,629" fill="#5c9a2e"/><polygon points="834.2,637.1 835.7,641.9 840.6,643.3 836.5,646.3 836.7,651.3 832.6,648.4 827.8,650.1 829.4,645.3 826.3,641.3 831.3,641.2" fill="#f6b42c"/><line x1="771.5" y1="807.3" x2="881.4" y2="686.5" stroke="#8e2488" stroke-width="3.3" stroke-linecap="butt"/><line x1="770.5" y1="786" x2="849.2" y2="699" stroke="#56525c" stroke-width="3.3" stroke-linecap="butt"/><polygon points="882.5,678.8 884.1,683.7 889.1,685.1 884.9,688.2 885.1,693.4 880.9,690.4 876,692.1 877.6,687.2 874.4,683.1 879.6,683.1" fill="#5c9a2e"/><polygon points="850.3,691.5 851.8,696.3 856.7,697.7 852.6,700.7 852.8,705.7 848.7,702.8 843.9,704.5 845.5,699.7 842.4,695.7 847.4,695.6" fill="#f6b42c"/><g clip-path="url(#wc27)"><rect x="288.2" y="551.2" width="33" height="37.2" fill="#0f5d9c"/><ellipse cx="288.2" cy="588.4" rx="25.1" ry="32" fill="#0c5290"/><ellipse cx="288.2" cy="588.4" rx="18.5" ry="24.6" fill="#0a467e"/><ellipse cx="288.2" cy="588.4" rx="11.9" ry="16.4" fill="#093c6e"/></g><g clip-path="url(#wc28)"><rect x="393.7" y="550.1" width="39.2" height="38.3" fill="#178a62"/><ellipse cx="393.7" cy="588.4" rx="29.8" ry="32.9" fill="#127a56"/><ellipse cx="393.7" cy="588.4" rx="22" ry="25.3" fill="#0d6848"/><ellipse cx="393.7" cy="588.4" rx="14.1" ry="16.9" fill="#0a583c"/></g><g clip-path="url(#wc29)"><rect x="491.2" y="560.4" width="27.6" height="30.2" fill="#b8242c"/><ellipse cx="491.2" cy="590.6" rx="21" ry="26" fill="#a41c24"/><ellipse cx="491.2" cy="590.6" rx="15.5" ry="19.9" fill="#8c161e"/><ellipse cx="491.2" cy="590.6" rx="9.9" ry="13.3" fill="#741018"/></g><g clip-path="url(#wc30)"><rect x="26.6" y="1005.5" width="31.6" height="34.4" fill="#0f5d9c"/><ellipse cx="26.6" cy="1039.9" rx="24" ry="29.6" fill="#0c5290"/><ellipse cx="26.6" cy="1039.9" rx="17.7" ry="22.7" fill="#0a467e"/><ellipse cx="26.6" cy="1039.9" rx="11.4" ry="15.1" fill="#093c6e"/></g><g clip-path="url(#wc31)"><rect x="116.1" y="1001" width="40.7" height="38.6" fill="#178a62"/><ellipse cx="116.1" cy="1039.6" rx="30.9" ry="33.2" fill="#127a56"/><ellipse cx="116.1" cy="1039.6" rx="22.8" ry="25.5" fill="#0d6848"/><ellipse cx="116.1" cy="1039.6" rx="14.7" ry="17" fill="#0a583c"/></g><g clip-path="url(#wc32)"><rect x="185.7" y="1010.6" width="30.6" height="33" fill="#b8242c"/><ellipse cx="185.7" cy="1043.6" rx="23.3" ry="28.4" fill="#a41c24"/><ellipse cx="185.7" cy="1043.6" rx="17.1" ry="21.8" fill="#8c161e"/><ellipse cx="185.7" cy="1043.6" rx="11" ry="14.5" fill="#741018"/></g><g clip-path="url(#wc33)"><rect x="457" y="1014.5" width="29.5" height="34.6" fill="#0f5d9c"/><ellipse cx="457" cy="1049.1" rx="22.4" ry="29.8" fill="#0c5290"/><ellipse cx="457" cy="1049.1" rx="16.5" ry="22.8" fill="#0a467e"/><ellipse cx="457" cy="1049.1" rx="10.6" ry="15.2" fill="#093c6e"/></g><g clip-path="url(#wc34)"><rect x="495.2" y="1068" width="36.4" height="38.2" fill="#178a62"/><ellipse cx="495.2" cy="1106.2" rx="27.7" ry="32.9" fill="#127a56"/><ellipse cx="495.2" cy="1106.2" rx="20.4" ry="25.2" fill="#0d6848"/><ellipse cx="495.2" cy="1106.2" rx="13.1" ry="16.8" fill="#0a583c"/></g><g clip-path="url(#wc35)"><rect x="539.6" y="1128.6" width="29.8" height="34" fill="#b8242c"/><ellipse cx="539.6" cy="1162.6" rx="22.6" ry="29.2" fill="#a41c24"/><ellipse cx="539.6" cy="1162.6" rx="16.7" ry="22.4" fill="#8c161e"/><ellipse cx="539.6" cy="1162.6" rx="10.7" ry="15" fill="#741018"/></g><g clip-path="url(#wc36)"><rect x="716.7" y="676.8" width="34.4" height="28.8" fill="#0f5d9c"/><ellipse cx="716.7" cy="705.6" rx="26.1" ry="24.8" fill="#0c5290"/><ellipse cx="716.7" cy="705.6" rx="19.3" ry="19" fill="#0a467e"/><ellipse cx="716.7" cy="705.6" rx="12.4" ry="12.7" fill="#093c6e"/></g><g clip-path="url(#wc37)"><rect x="735.6" y="719.5" width="37.7" height="37.7" fill="#178a62"/><ellipse cx="735.6" cy="757.2" rx="28.7" ry="32.4" fill="#127a56"/><ellipse cx="735.6" cy="757.2" rx="21.1" ry="24.9" fill="#0d6848"/><ellipse cx="735.6" cy="757.2" rx="13.6" ry="16.6" fill="#0a583c"/></g><g clip-path="url(#wc38)"><rect x="756.7" y="793.2" width="34.9" height="29.4" fill="#b8242c"/><ellipse cx="756.7" cy="822.6" rx="26.5" ry="25.3" fill="#a41c24"/><ellipse cx="756.7" cy="822.6" rx="19.5" ry="19.4" fill="#8c161e"/><ellipse cx="756.7" cy="822.6" rx="12.6" ry="12.9" fill="#741018"/></g></g>
<g id="panelC"><text x="923" y="50.8" font-size="60" text-anchor="start" font-weight="normal" fill="#1c1612" >C</text><text x="1019" y="47.2" font-size="34" text-anchor="start" font-weight="normal" fill="#1c1612" >Laser</text><text x="1154.5" y="34.9" font-size="34.7" text-anchor="start" font-weight="normal" fill="#1c1612" >495 nm</text><g transform="translate(1122.5,28.5) rotate(52)"><ellipse cx="56.5" cy="2" rx="28" ry="17.5" transform="rotate(-10 56.5 2)" fill="#4674c2" filter="url(#blur5)"/><line x1="36" y1="0" x2="68" y2="2" stroke="#2a6cb8" stroke-width="1.3"/><rect x="-1" y="-3.4" width="40.5" height="6.8" rx="3.4" fill="url(#rod)"/><circle cx="36" cy="0" r="1.7" fill="#5a90c8"/></g><circle cx="1021.7" cy="183" r="58.5" fill="url(#glR)" opacity="1"/><line x1="1018.6" y1="137.8" x2="1014.5" y2="107.8" stroke="#d6d494" stroke-width="0.95"/><line x1="1016.7" y1="145.8" x2="1011.2" y2="105.2" stroke="#6f8e2a" stroke-width="0.95"/><line x1="1041.7" y1="145" x2="1057.2" y2="120.3" stroke="#d6d494" stroke-width="0.95"/><line x1="1041.6" y1="151.2" x2="1063.5" y2="116.1" stroke="#6f8e2a" stroke-width="0.95"/><line x1="1054.8" y1="158.6" x2="1082.1" y2="135.4" stroke="#d6d494" stroke-width="0.95"/><line x1="1050.3" y1="158.7" x2="1082.1" y2="131.6" stroke="#6f8e2a" stroke-width="0.95"/><line x1="1064.9" y1="178.4" x2="1095.4" y2="176.8" stroke="#d6d494" stroke-width="0.95"/><line x1="1059.2" y1="181.1" x2="1099.8" y2="179" stroke="#6f8e2a" stroke-width="0.95"/><line x1="1058.5" y1="209.1" x2="1080.8" y2="223.2" stroke="#d6d494" stroke-width="0.95"/><line x1="1053.4" y1="203" x2="1086.8" y2="224.2" stroke="#6f8e2a" stroke-width="0.95"/><line x1="1046.3" y1="216.1" x2="1065.3" y2="245.1" stroke="#d6d494" stroke-width="0.95"/><line x1="1042.3" y1="214.3" x2="1065" y2="249" stroke="#6f8e2a" stroke-width="0.95"/><line x1="1021" y1="227.9" x2="1022" y2="254.6" stroke="#d6d494" stroke-width="0.95"/><line x1="1023.1" y1="220.5" x2="1024.6" y2="261.5" stroke="#6f8e2a" stroke-width="0.95"/><line x1="1001.6" y1="223.2" x2="986.4" y2="249.7" stroke="#d6d494" stroke-width="0.95"/><line x1="1003.1" y1="215.6" x2="983.3" y2="250.3" stroke="#6f8e2a" stroke-width="0.95"/><line x1="986.5" y1="209.4" x2="964.2" y2="228.8" stroke="#d6d494" stroke-width="0.95"/><line x1="993.4" y1="207.6" x2="963" y2="234" stroke="#6f8e2a" stroke-width="0.95"/><line x1="977.3" y1="192.9" x2="949" y2="197.2" stroke="#d6d494" stroke-width="0.95"/><line x1="984.6" y1="188.6" x2="945.1" y2="194.6" stroke="#6f8e2a" stroke-width="0.95"/><line x1="982.8" y1="168.9" x2="951.4" y2="159.7" stroke="#d6d494" stroke-width="0.95"/><line x1="985.7" y1="172.4" x2="945.7" y2="160.6" stroke="#6f8e2a" stroke-width="0.95"/><line x1="988.6" y1="154.7" x2="968" y2="135.2" stroke="#d6d494" stroke-width="0.95"/><line x1="994.5" y1="157.2" x2="965.6" y2="129.7" stroke="#6f8e2a" stroke-width="0.95"/><use href="#sG" x="981.2" y="142.5" width="81" height="81"/><circle cx="1180.1" cy="204" r="58.5" fill="url(#glR)" opacity="1"/><line x1="1177" y1="158.8" x2="1172.9" y2="128.8" stroke="#9c9cc4" stroke-width="0.95"/><line x1="1175.1" y1="166.8" x2="1169.6" y2="126.2" stroke="#3c7ea4" stroke-width="0.95"/><line x1="1200.1" y1="166" x2="1215.6" y2="141.3" stroke="#9c9cc4" stroke-width="0.95"/><line x1="1200" y1="172.2" x2="1221.9" y2="137.1" stroke="#3c7ea4" stroke-width="0.95"/><line x1="1213.2" y1="179.6" x2="1240.5" y2="156.4" stroke="#9c9cc4" stroke-width="0.95"/><line x1="1208.7" y1="179.7" x2="1240.5" y2="152.6" stroke="#3c7ea4" stroke-width="0.95"/><line x1="1223.3" y1="199.4" x2="1253.8" y2="197.8" stroke="#9c9cc4" stroke-width="0.95"/><line x1="1217.6" y1="202.1" x2="1258.2" y2="200" stroke="#3c7ea4" stroke-width="0.95"/><line x1="1216.9" y1="230.1" x2="1239.2" y2="244.2" stroke="#9c9cc4" stroke-width="0.95"/><line x1="1211.8" y1="224" x2="1245.2" y2="245.2" stroke="#3c7ea4" stroke-width="0.95"/><line x1="1204.7" y1="237.1" x2="1223.7" y2="266.1" stroke="#9c9cc4" stroke-width="0.95"/><line x1="1200.7" y1="235.3" x2="1223.4" y2="270" stroke="#3c7ea4" stroke-width="0.95"/><line x1="1179.4" y1="248.9" x2="1180.4" y2="275.6" stroke="#9c9cc4" stroke-width="0.95"/><line x1="1181.5" y1="241.5" x2="1183" y2="282.5" stroke="#3c7ea4" stroke-width="0.95"/><line x1="1160" y1="244.2" x2="1144.8" y2="270.7" stroke="#9c9cc4" stroke-width="0.95"/><line x1="1161.5" y1="236.6" x2="1141.7" y2="271.3" stroke="#3c7ea4" stroke-width="0.95"/><line x1="1144.9" y1="230.4" x2="1122.6" y2="249.8" stroke="#9c9cc4" stroke-width="0.95"/><line x1="1151.8" y1="228.6" x2="1121.4" y2="255" stroke="#3c7ea4" stroke-width="0.95"/><line x1="1135.7" y1="213.9" x2="1107.4" y2="218.2" stroke="#9c9cc4" stroke-width="0.95"/><line x1="1143" y1="209.6" x2="1103.5" y2="215.6" stroke="#3c7ea4" stroke-width="0.95"/><line x1="1141.2" y1="189.9" x2="1109.8" y2="180.7" stroke="#9c9cc4" stroke-width="0.95"/><line x1="1144.1" y1="193.4" x2="1104.1" y2="181.6" stroke="#3c7ea4" stroke-width="0.95"/><line x1="1147" y1="175.7" x2="1126.4" y2="156.2" stroke="#9c9cc4" stroke-width="0.95"/><line x1="1152.9" y1="178.2" x2="1124" y2="150.7" stroke="#3c7ea4" stroke-width="0.95"/><use href="#sB" x="1139.6" y="163.5" width="81" height="81"/><circle cx="1324.1" cy="124.6" r="58.5" fill="url(#glR)" opacity="1"/><line x1="1341" y1="166.6" x2="1350.4" y2="195.5" stroke="#9c9cc4" stroke-width="0.95"/><line x1="1335.8" y1="160.2" x2="1348.6" y2="199.2" stroke="#3c7ea4" stroke-width="0.95"/><line x1="1358.7" y1="150" x2="1383.4" y2="165.6" stroke="#9c9cc4" stroke-width="0.95"/><line x1="1355.8" y1="144.6" x2="1390.9" y2="166.6" stroke="#3c7ea4" stroke-width="0.95"/><line x1="1364.6" y1="132.2" x2="1399.2" y2="141.2" stroke="#9c9cc4" stroke-width="0.95"/><line x1="1360.4" y1="134" x2="1400.9" y2="144.5" stroke="#3c7ea4" stroke-width="0.95"/><line x1="1365" y1="109.9" x2="1393.1" y2="98" stroke="#9c9cc4" stroke-width="0.95"/><line x1="1358.6" y1="110" x2="1396.1" y2="94.1" stroke="#3c7ea4" stroke-width="0.95"/><line x1="1345.8" y1="85" x2="1359.7" y2="62.6" stroke="#9c9cc4" stroke-width="0.95"/><line x1="1343.9" y1="92.7" x2="1364.7" y2="59.2" stroke="#3c7ea4" stroke-width="0.95"/><line x1="1331.8" y1="84.1" x2="1336.3" y2="49.6" stroke="#9c9cc4" stroke-width="0.95"/><line x1="1329" y1="87.4" x2="1334.3" y2="46.4" stroke="#3c7ea4" stroke-width="0.95"/><line x1="1303.9" y1="84.5" x2="1293.2" y2="60" stroke="#9c9cc4" stroke-width="0.95"/><line x1="1309" y1="90.3" x2="1292.5" y2="52.7" stroke="#3c7ea4" stroke-width="0.95"/><line x1="1288.5" y1="97.2" x2="1263.3" y2="79.9" stroke="#9c9cc4" stroke-width="0.95"/><line x1="1293.2" y1="103.4" x2="1260.2" y2="80.7" stroke="#3c7ea4" stroke-width="0.95"/><line x1="1280.9" y1="116.2" x2="1252.4" y2="108.5" stroke="#9c9cc4" stroke-width="0.95"/><line x1="1287.9" y1="114.8" x2="1249.1" y2="104.3" stroke="#3c7ea4" stroke-width="0.95"/><line x1="1279.9" y1="135" x2="1252.5" y2="143.5" stroke="#9c9cc4" stroke-width="0.95"/><line x1="1288.3" y1="135.7" x2="1250.1" y2="147.6" stroke="#3c7ea4" stroke-width="0.95"/><line x1="1295.2" y1="154.2" x2="1271" y2="176.2" stroke="#9c9cc4" stroke-width="0.95"/><line x1="1296.3" y1="149.8" x2="1265.4" y2="177.9" stroke="#3c7ea4" stroke-width="0.95"/><line x1="1306.6" y1="164.5" x2="1296.6" y2="191.1" stroke="#9c9cc4" stroke-width="0.95"/><line x1="1310.9" y1="159.7" x2="1296.8" y2="197" stroke="#3c7ea4" stroke-width="0.95"/><use href="#sB" x="1283.6" y="84.1" width="81" height="81"/><circle cx="1495.5" cy="183.3" r="58.5" fill="url(#glR)" opacity="1"/><line x1="1512.4" y1="225.3" x2="1521.8" y2="254.2" stroke="#d6d494" stroke-width="0.95"/><line x1="1507.2" y1="218.9" x2="1520" y2="257.9" stroke="#6f8e2a" stroke-width="0.95"/><line x1="1530.1" y1="208.7" x2="1554.8" y2="224.3" stroke="#d6d494" stroke-width="0.95"/><line x1="1527.2" y1="203.3" x2="1562.3" y2="225.3" stroke="#6f8e2a" stroke-width="0.95"/><line x1="1536" y1="190.9" x2="1570.6" y2="199.9" stroke="#d6d494" stroke-width="0.95"/><line x1="1531.8" y1="192.7" x2="1572.3" y2="203.2" stroke="#6f8e2a" stroke-width="0.95"/><line x1="1536.4" y1="168.6" x2="1564.5" y2="156.7" stroke="#d6d494" stroke-width="0.95"/><line x1="1530" y1="168.7" x2="1567.5" y2="152.8" stroke="#6f8e2a" stroke-width="0.95"/><line x1="1517.2" y1="143.7" x2="1531.1" y2="121.3" stroke="#d6d494" stroke-width="0.95"/><line x1="1515.3" y1="151.4" x2="1536.1" y2="117.9" stroke="#6f8e2a" stroke-width="0.95"/><line x1="1503.2" y1="142.8" x2="1507.7" y2="108.3" stroke="#d6d494" stroke-width="0.95"/><line x1="1500.4" y1="146.1" x2="1505.7" y2="105.1" stroke="#6f8e2a" stroke-width="0.95"/><line x1="1475.3" y1="143.2" x2="1464.6" y2="118.7" stroke="#d6d494" stroke-width="0.95"/><line x1="1480.4" y1="149" x2="1463.9" y2="111.4" stroke="#6f8e2a" stroke-width="0.95"/><line x1="1459.9" y1="155.9" x2="1434.7" y2="138.6" stroke="#d6d494" stroke-width="0.95"/><line x1="1464.6" y1="162.1" x2="1431.6" y2="139.4" stroke="#6f8e2a" stroke-width="0.95"/><line x1="1452.3" y1="174.9" x2="1423.8" y2="167.2" stroke="#d6d494" stroke-width="0.95"/><line x1="1459.3" y1="173.5" x2="1420.5" y2="163" stroke="#6f8e2a" stroke-width="0.95"/><line x1="1451.3" y1="193.7" x2="1423.9" y2="202.2" stroke="#d6d494" stroke-width="0.95"/><line x1="1459.7" y1="194.4" x2="1421.5" y2="206.3" stroke="#6f8e2a" stroke-width="0.95"/><line x1="1466.6" y1="212.9" x2="1442.4" y2="234.9" stroke="#d6d494" stroke-width="0.95"/><line x1="1467.7" y1="208.5" x2="1436.8" y2="236.6" stroke="#6f8e2a" stroke-width="0.95"/><line x1="1478" y1="223.2" x2="1468" y2="249.8" stroke="#d6d494" stroke-width="0.95"/><line x1="1482.3" y1="218.4" x2="1468.2" y2="255.7" stroke="#6f8e2a" stroke-width="0.95"/><use href="#sG" x="1455" y="142.8" width="81" height="81"/><circle cx="1045.8" cy="321.4" r="58.5" fill="url(#glR)" opacity="1"/><line x1="1042.7" y1="276.2" x2="1038.6" y2="246.2" stroke="#54304e" stroke-width="0.95"/><line x1="1040.8" y1="284.2" x2="1035.3" y2="243.6" stroke="#8e2488" stroke-width="0.95"/><line x1="1065.8" y1="283.4" x2="1081.3" y2="258.7" stroke="#54304e" stroke-width="0.95"/><line x1="1065.7" y1="289.6" x2="1087.6" y2="254.5" stroke="#8e2488" stroke-width="0.95"/><line x1="1078.9" y1="297" x2="1106.2" y2="273.8" stroke="#54304e" stroke-width="0.95"/><line x1="1074.4" y1="297.1" x2="1106.2" y2="270" stroke="#8e2488" stroke-width="0.95"/><line x1="1089" y1="316.8" x2="1119.5" y2="315.2" stroke="#54304e" stroke-width="0.95"/><line x1="1083.3" y1="319.5" x2="1123.9" y2="317.4" stroke="#8e2488" stroke-width="0.95"/><line x1="1082.6" y1="347.5" x2="1104.9" y2="361.6" stroke="#54304e" stroke-width="0.95"/><line x1="1077.5" y1="341.4" x2="1110.9" y2="362.6" stroke="#8e2488" stroke-width="0.95"/><line x1="1070.4" y1="354.5" x2="1089.4" y2="383.5" stroke="#54304e" stroke-width="0.95"/><line x1="1066.4" y1="352.7" x2="1089.1" y2="387.4" stroke="#8e2488" stroke-width="0.95"/><line x1="1045.1" y1="366.3" x2="1046.1" y2="393" stroke="#54304e" stroke-width="0.95"/><line x1="1047.2" y1="358.9" x2="1048.7" y2="399.9" stroke="#8e2488" stroke-width="0.95"/><line x1="1025.7" y1="361.6" x2="1010.5" y2="388.1" stroke="#54304e" stroke-width="0.95"/><line x1="1027.2" y1="354" x2="1007.4" y2="388.7" stroke="#8e2488" stroke-width="0.95"/><line x1="1010.6" y1="347.8" x2="988.3" y2="367.2" stroke="#54304e" stroke-width="0.95"/><line x1="1017.5" y1="346" x2="987.1" y2="372.4" stroke="#8e2488" stroke-width="0.95"/><line x1="1001.4" y1="331.3" x2="973.1" y2="335.6" stroke="#54304e" stroke-width="0.95"/><line x1="1008.7" y1="327" x2="969.2" y2="333" stroke="#8e2488" stroke-width="0.95"/><line x1="1006.9" y1="307.3" x2="975.5" y2="298.1" stroke="#54304e" stroke-width="0.95"/><line x1="1009.8" y1="310.8" x2="969.8" y2="299" stroke="#8e2488" stroke-width="0.95"/><line x1="1012.7" y1="293.1" x2="992.1" y2="273.6" stroke="#54304e" stroke-width="0.95"/><line x1="1018.6" y1="295.6" x2="989.7" y2="268.1" stroke="#8e2488" stroke-width="0.95"/><use href="#sR" x="1005.3" y="280.9" width="81" height="81"/><circle cx="1213.4" cy="346" r="58.5" fill="url(#glR)" opacity="1"/><line x1="1210.3" y1="300.8" x2="1206.2" y2="270.8" stroke="#d6d494" stroke-width="0.95"/><line x1="1208.4" y1="308.8" x2="1202.9" y2="268.2" stroke="#6f8e2a" stroke-width="0.95"/><line x1="1233.4" y1="308" x2="1248.9" y2="283.3" stroke="#d6d494" stroke-width="0.95"/><line x1="1233.3" y1="314.2" x2="1255.2" y2="279.1" stroke="#6f8e2a" stroke-width="0.95"/><line x1="1246.5" y1="321.6" x2="1273.8" y2="298.4" stroke="#d6d494" stroke-width="0.95"/><line x1="1242" y1="321.7" x2="1273.8" y2="294.6" stroke="#6f8e2a" stroke-width="0.95"/><line x1="1256.6" y1="341.4" x2="1287.1" y2="339.8" stroke="#d6d494" stroke-width="0.95"/><line x1="1250.9" y1="344.1" x2="1291.5" y2="342" stroke="#6f8e2a" stroke-width="0.95"/><line x1="1250.2" y1="372.1" x2="1272.5" y2="386.2" stroke="#d6d494" stroke-width="0.95"/><line x1="1245.1" y1="366" x2="1278.5" y2="387.2" stroke="#6f8e2a" stroke-width="0.95"/><line x1="1238" y1="379.1" x2="1257" y2="408.1" stroke="#d6d494" stroke-width="0.95"/><line x1="1234" y1="377.3" x2="1256.7" y2="412" stroke="#6f8e2a" stroke-width="0.95"/><line x1="1212.7" y1="390.9" x2="1213.7" y2="417.6" stroke="#d6d494" stroke-width="0.95"/><line x1="1214.8" y1="383.5" x2="1216.3" y2="424.5" stroke="#6f8e2a" stroke-width="0.95"/><line x1="1193.3" y1="386.2" x2="1178.1" y2="412.7" stroke="#d6d494" stroke-width="0.95"/><line x1="1194.8" y1="378.6" x2="1175" y2="413.3" stroke="#6f8e2a" stroke-width="0.95"/><line x1="1178.2" y1="372.4" x2="1155.9" y2="391.8" stroke="#d6d494" stroke-width="0.95"/><line x1="1185.1" y1="370.6" x2="1154.7" y2="397" stroke="#6f8e2a" stroke-width="0.95"/><line x1="1169" y1="355.9" x2="1140.7" y2="360.2" stroke="#d6d494" stroke-width="0.95"/><line x1="1176.3" y1="351.6" x2="1136.8" y2="357.6" stroke="#6f8e2a" stroke-width="0.95"/><line x1="1174.5" y1="331.9" x2="1143.1" y2="322.7" stroke="#d6d494" stroke-width="0.95"/><line x1="1177.4" y1="335.4" x2="1137.4" y2="323.6" stroke="#6f8e2a" stroke-width="0.95"/><line x1="1180.3" y1="317.7" x2="1159.7" y2="298.2" stroke="#d6d494" stroke-width="0.95"/><line x1="1186.2" y1="320.2" x2="1157.3" y2="292.7" stroke="#6f8e2a" stroke-width="0.95"/><use href="#sG" x="1172.9" y="305.5" width="81" height="81"/><circle cx="1353.4" cy="276.8" r="58.5" fill="url(#glR)" opacity="1"/><line x1="1370.3" y1="318.8" x2="1379.7" y2="347.7" stroke="#54304e" stroke-width="0.95"/><line x1="1365.1" y1="312.4" x2="1377.9" y2="351.4" stroke="#8e2488" stroke-width="0.95"/><line x1="1388" y1="302.2" x2="1412.7" y2="317.8" stroke="#54304e" stroke-width="0.95"/><line x1="1385.1" y1="296.8" x2="1420.2" y2="318.8" stroke="#8e2488" stroke-width="0.95"/><line x1="1393.9" y1="284.4" x2="1428.5" y2="293.4" stroke="#54304e" stroke-width="0.95"/><line x1="1389.7" y1="286.2" x2="1430.2" y2="296.7" stroke="#8e2488" stroke-width="0.95"/><line x1="1394.3" y1="262.1" x2="1422.4" y2="250.2" stroke="#54304e" stroke-width="0.95"/><line x1="1387.9" y1="262.2" x2="1425.4" y2="246.3" stroke="#8e2488" stroke-width="0.95"/><line x1="1375.1" y1="237.2" x2="1389" y2="214.8" stroke="#54304e" stroke-width="0.95"/><line x1="1373.2" y1="244.9" x2="1394" y2="211.4" stroke="#8e2488" stroke-width="0.95"/><line x1="1361.1" y1="236.3" x2="1365.6" y2="201.8" stroke="#54304e" stroke-width="0.95"/><line x1="1358.3" y1="239.6" x2="1363.6" y2="198.6" stroke="#8e2488" stroke-width="0.95"/><line x1="1333.2" y1="236.7" x2="1322.5" y2="212.2" stroke="#54304e" stroke-width="0.95"/><line x1="1338.3" y1="242.5" x2="1321.8" y2="204.9" stroke="#8e2488" stroke-width="0.95"/><line x1="1317.8" y1="249.4" x2="1292.6" y2="232.1" stroke="#54304e" stroke-width="0.95"/><line x1="1322.5" y1="255.6" x2="1289.5" y2="232.9" stroke="#8e2488" stroke-width="0.95"/><line x1="1310.2" y1="268.4" x2="1281.7" y2="260.7" stroke="#54304e" stroke-width="0.95"/><line x1="1317.2" y1="267" x2="1278.4" y2="256.5" stroke="#8e2488" stroke-width="0.95"/><line x1="1309.2" y1="287.2" x2="1281.8" y2="295.7" stroke="#54304e" stroke-width="0.95"/><line x1="1317.6" y1="287.9" x2="1279.4" y2="299.8" stroke="#8e2488" stroke-width="0.95"/><line x1="1324.5" y1="306.4" x2="1300.3" y2="328.4" stroke="#54304e" stroke-width="0.95"/><line x1="1325.6" y1="302" x2="1294.7" y2="330.1" stroke="#8e2488" stroke-width="0.95"/><line x1="1335.9" y1="316.7" x2="1325.9" y2="343.3" stroke="#54304e" stroke-width="0.95"/><line x1="1340.2" y1="311.9" x2="1326.1" y2="349.2" stroke="#8e2488" stroke-width="0.95"/><use href="#sR" x="1312.9" y="236.3" width="81" height="81"/><circle cx="1524.1" cy="324.7" r="58.5" fill="url(#glR)" opacity="1"/><line x1="1541" y1="366.7" x2="1550.4" y2="395.6" stroke="#9c9cc4" stroke-width="0.95"/><line x1="1535.8" y1="360.3" x2="1548.6" y2="399.3" stroke="#3c7ea4" stroke-width="0.95"/><line x1="1558.7" y1="350.1" x2="1583.4" y2="365.7" stroke="#9c9cc4" stroke-width="0.95"/><line x1="1555.8" y1="344.7" x2="1590.9" y2="366.7" stroke="#3c7ea4" stroke-width="0.95"/><line x1="1564.6" y1="332.3" x2="1599.2" y2="341.3" stroke="#9c9cc4" stroke-width="0.95"/><line x1="1560.4" y1="334.1" x2="1600.9" y2="344.6" stroke="#3c7ea4" stroke-width="0.95"/><line x1="1565" y1="310" x2="1593.1" y2="298.1" stroke="#9c9cc4" stroke-width="0.95"/><line x1="1558.6" y1="310.1" x2="1596.1" y2="294.2" stroke="#3c7ea4" stroke-width="0.95"/><line x1="1545.8" y1="285.1" x2="1559.7" y2="262.7" stroke="#9c9cc4" stroke-width="0.95"/><line x1="1543.9" y1="292.8" x2="1564.7" y2="259.3" stroke="#3c7ea4" stroke-width="0.95"/><line x1="1531.8" y1="284.2" x2="1536.3" y2="249.7" stroke="#9c9cc4" stroke-width="0.95"/><line x1="1529" y1="287.5" x2="1534.3" y2="246.5" stroke="#3c7ea4" stroke-width="0.95"/><line x1="1503.9" y1="284.6" x2="1493.2" y2="260.1" stroke="#9c9cc4" stroke-width="0.95"/><line x1="1509" y1="290.4" x2="1492.5" y2="252.8" stroke="#3c7ea4" stroke-width="0.95"/><line x1="1488.5" y1="297.3" x2="1463.3" y2="280" stroke="#9c9cc4" stroke-width="0.95"/><line x1="1493.2" y1="303.5" x2="1460.2" y2="280.8" stroke="#3c7ea4" stroke-width="0.95"/><line x1="1480.9" y1="316.3" x2="1452.4" y2="308.6" stroke="#9c9cc4" stroke-width="0.95"/><line x1="1487.9" y1="314.9" x2="1449.1" y2="304.4" stroke="#3c7ea4" stroke-width="0.95"/><line x1="1479.9" y1="335.1" x2="1452.5" y2="343.6" stroke="#9c9cc4" stroke-width="0.95"/><line x1="1488.3" y1="335.8" x2="1450.1" y2="347.7" stroke="#3c7ea4" stroke-width="0.95"/><line x1="1495.2" y1="354.3" x2="1471" y2="376.3" stroke="#9c9cc4" stroke-width="0.95"/><line x1="1496.3" y1="349.9" x2="1465.4" y2="378" stroke="#3c7ea4" stroke-width="0.95"/><line x1="1506.6" y1="364.6" x2="1496.6" y2="391.2" stroke="#9c9cc4" stroke-width="0.95"/><line x1="1510.9" y1="359.8" x2="1496.8" y2="397.1" stroke="#3c7ea4" stroke-width="0.95"/><use href="#sB" x="1483.6" y="284.2" width="81" height="81"/><circle cx="1116" cy="453.6" r="58.5" fill="url(#glR)" opacity="1"/><line x1="1112.9" y1="408.4" x2="1108.8" y2="378.4" stroke="#9c9cc4" stroke-width="0.95"/><line x1="1111" y1="416.4" x2="1105.5" y2="375.8" stroke="#3c7ea4" stroke-width="0.95"/><line x1="1136" y1="415.6" x2="1151.5" y2="390.9" stroke="#9c9cc4" stroke-width="0.95"/><line x1="1135.9" y1="421.8" x2="1157.8" y2="386.7" stroke="#3c7ea4" stroke-width="0.95"/><line x1="1149.1" y1="429.2" x2="1176.4" y2="406" stroke="#9c9cc4" stroke-width="0.95"/><line x1="1144.6" y1="429.3" x2="1176.4" y2="402.2" stroke="#3c7ea4" stroke-width="0.95"/><line x1="1159.2" y1="449" x2="1189.7" y2="447.4" stroke="#9c9cc4" stroke-width="0.95"/><line x1="1153.5" y1="451.7" x2="1194.1" y2="449.6" stroke="#3c7ea4" stroke-width="0.95"/><line x1="1152.8" y1="479.7" x2="1175.1" y2="493.8" stroke="#9c9cc4" stroke-width="0.95"/><line x1="1147.7" y1="473.6" x2="1181.1" y2="494.8" stroke="#3c7ea4" stroke-width="0.95"/><line x1="1140.6" y1="486.7" x2="1159.6" y2="515.7" stroke="#9c9cc4" stroke-width="0.95"/><line x1="1136.6" y1="484.9" x2="1159.3" y2="519.6" stroke="#3c7ea4" stroke-width="0.95"/><line x1="1115.3" y1="498.5" x2="1116.3" y2="525.2" stroke="#9c9cc4" stroke-width="0.95"/><line x1="1117.4" y1="491.1" x2="1118.9" y2="532.1" stroke="#3c7ea4" stroke-width="0.95"/><line x1="1095.9" y1="493.8" x2="1080.7" y2="520.3" stroke="#9c9cc4" stroke-width="0.95"/><line x1="1097.4" y1="486.2" x2="1077.6" y2="520.9" stroke="#3c7ea4" stroke-width="0.95"/><line x1="1080.8" y1="480" x2="1058.5" y2="499.4" stroke="#9c9cc4" stroke-width="0.95"/><line x1="1087.7" y1="478.2" x2="1057.3" y2="504.6" stroke="#3c7ea4" stroke-width="0.95"/><line x1="1071.6" y1="463.5" x2="1043.3" y2="467.8" stroke="#9c9cc4" stroke-width="0.95"/><line x1="1078.9" y1="459.2" x2="1039.4" y2="465.2" stroke="#3c7ea4" stroke-width="0.95"/><line x1="1077.1" y1="439.5" x2="1045.7" y2="430.3" stroke="#9c9cc4" stroke-width="0.95"/><line x1="1080" y1="443" x2="1040" y2="431.2" stroke="#3c7ea4" stroke-width="0.95"/><line x1="1082.9" y1="425.3" x2="1062.3" y2="405.8" stroke="#9c9cc4" stroke-width="0.95"/><line x1="1088.8" y1="427.8" x2="1059.9" y2="400.3" stroke="#3c7ea4" stroke-width="0.95"/><use href="#sB" x="1075.5" y="413.1" width="81" height="81"/><circle cx="1390.8" cy="412.6" r="58.5" fill="url(#glR)" opacity="1"/><line x1="1407.7" y1="454.6" x2="1417.1" y2="483.5" stroke="#d6d494" stroke-width="0.95"/><line x1="1402.5" y1="448.2" x2="1415.3" y2="487.2" stroke="#6f8e2a" stroke-width="0.95"/><line x1="1425.4" y1="438" x2="1450.1" y2="453.6" stroke="#d6d494" stroke-width="0.95"/><line x1="1422.5" y1="432.6" x2="1457.6" y2="454.6" stroke="#6f8e2a" stroke-width="0.95"/><line x1="1431.3" y1="420.2" x2="1465.9" y2="429.2" stroke="#d6d494" stroke-width="0.95"/><line x1="1427.1" y1="422" x2="1467.6" y2="432.5" stroke="#6f8e2a" stroke-width="0.95"/><line x1="1431.7" y1="397.9" x2="1459.8" y2="386" stroke="#d6d494" stroke-width="0.95"/><line x1="1425.3" y1="398" x2="1462.8" y2="382.1" stroke="#6f8e2a" stroke-width="0.95"/><line x1="1412.5" y1="373" x2="1426.4" y2="350.6" stroke="#d6d494" stroke-width="0.95"/><line x1="1410.6" y1="380.7" x2="1431.4" y2="347.2" stroke="#6f8e2a" stroke-width="0.95"/><line x1="1398.5" y1="372.1" x2="1403" y2="337.6" stroke="#d6d494" stroke-width="0.95"/><line x1="1395.7" y1="375.4" x2="1401" y2="334.4" stroke="#6f8e2a" stroke-width="0.95"/><line x1="1370.6" y1="372.5" x2="1359.9" y2="348" stroke="#d6d494" stroke-width="0.95"/><line x1="1375.7" y1="378.3" x2="1359.2" y2="340.7" stroke="#6f8e2a" stroke-width="0.95"/><line x1="1355.2" y1="385.2" x2="1330" y2="367.9" stroke="#d6d494" stroke-width="0.95"/><line x1="1359.9" y1="391.4" x2="1326.9" y2="368.7" stroke="#6f8e2a" stroke-width="0.95"/><line x1="1347.6" y1="404.2" x2="1319.1" y2="396.5" stroke="#d6d494" stroke-width="0.95"/><line x1="1354.6" y1="402.8" x2="1315.8" y2="392.3" stroke="#6f8e2a" stroke-width="0.95"/><line x1="1346.6" y1="423" x2="1319.2" y2="431.5" stroke="#d6d494" stroke-width="0.95"/><line x1="1355" y1="423.7" x2="1316.8" y2="435.6" stroke="#6f8e2a" stroke-width="0.95"/><line x1="1361.9" y1="442.2" x2="1337.7" y2="464.2" stroke="#d6d494" stroke-width="0.95"/><line x1="1363" y1="437.8" x2="1332.1" y2="465.9" stroke="#6f8e2a" stroke-width="0.95"/><line x1="1373.3" y1="452.5" x2="1363.3" y2="479.1" stroke="#d6d494" stroke-width="0.95"/><line x1="1377.6" y1="447.7" x2="1363.5" y2="485" stroke="#6f8e2a" stroke-width="0.95"/><use href="#sG" x="1350.3" y="372.1" width="81" height="81"/><circle cx="1531.7" cy="458.7" r="58.5" fill="url(#glR)" opacity="1"/><line x1="1528.6" y1="413.5" x2="1524.5" y2="383.5" stroke="#54304e" stroke-width="0.95"/><line x1="1526.7" y1="421.5" x2="1521.2" y2="380.9" stroke="#8e2488" stroke-width="0.95"/><line x1="1551.7" y1="420.7" x2="1567.2" y2="396" stroke="#54304e" stroke-width="0.95"/><line x1="1551.6" y1="426.9" x2="1573.5" y2="391.8" stroke="#8e2488" stroke-width="0.95"/><line x1="1564.8" y1="434.3" x2="1592.1" y2="411.1" stroke="#54304e" stroke-width="0.95"/><line x1="1560.3" y1="434.4" x2="1592.1" y2="407.3" stroke="#8e2488" stroke-width="0.95"/><line x1="1574.9" y1="454.1" x2="1605.4" y2="452.5" stroke="#54304e" stroke-width="0.95"/><line x1="1569.2" y1="456.8" x2="1609.8" y2="454.7" stroke="#8e2488" stroke-width="0.95"/><line x1="1568.5" y1="484.8" x2="1590.8" y2="498.9" stroke="#54304e" stroke-width="0.95"/><line x1="1563.4" y1="478.7" x2="1596.8" y2="499.9" stroke="#8e2488" stroke-width="0.95"/><line x1="1556.3" y1="491.8" x2="1575.3" y2="520.8" stroke="#54304e" stroke-width="0.95"/><line x1="1552.3" y1="490" x2="1575" y2="524.7" stroke="#8e2488" stroke-width="0.95"/><line x1="1531" y1="503.6" x2="1532" y2="530.3" stroke="#54304e" stroke-width="0.95"/><line x1="1533.1" y1="496.2" x2="1534.6" y2="537.2" stroke="#8e2488" stroke-width="0.95"/><line x1="1511.6" y1="498.9" x2="1496.4" y2="525.4" stroke="#54304e" stroke-width="0.95"/><line x1="1513.1" y1="491.3" x2="1493.3" y2="526" stroke="#8e2488" stroke-width="0.95"/><line x1="1496.5" y1="485.1" x2="1474.2" y2="504.5" stroke="#54304e" stroke-width="0.95"/><line x1="1503.4" y1="483.3" x2="1473" y2="509.7" stroke="#8e2488" stroke-width="0.95"/><line x1="1487.3" y1="468.6" x2="1459" y2="472.9" stroke="#54304e" stroke-width="0.95"/><line x1="1494.6" y1="464.3" x2="1455.1" y2="470.3" stroke="#8e2488" stroke-width="0.95"/><line x1="1492.8" y1="444.6" x2="1461.4" y2="435.4" stroke="#54304e" stroke-width="0.95"/><line x1="1495.7" y1="448.1" x2="1455.7" y2="436.3" stroke="#8e2488" stroke-width="0.95"/><line x1="1498.6" y1="430.4" x2="1478" y2="410.9" stroke="#54304e" stroke-width="0.95"/><line x1="1504.5" y1="432.9" x2="1475.6" y2="405.4" stroke="#8e2488" stroke-width="0.95"/><use href="#sR" x="1491.2" y="418.2" width="81" height="81"/><circle cx="1259.6" cy="492" r="55" fill="url(#glG)" opacity="0.612"/><path d="M1266.4 452.7L1267.4 441.3M1264.6 452.6L1265.6 441.1" stroke="#84a436" stroke-width="0.9" fill="none"/><ellipse cx="1266.8" cy="437.4" rx="4.4" ry="3.4" transform="rotate(-85 1266.8 437.4)" fill="none" stroke="#84a436" stroke-width="1"/><path d="M1284.9 460L1291.5 450.6M1283.4 458.9L1290 449.5" stroke="#84a436" stroke-width="0.9" fill="none"/><ellipse cx="1293" cy="446.9" rx="4.4" ry="3.4" transform="rotate(-55 1293 446.9)" fill="none" stroke="#84a436" stroke-width="1"/><path d="M1297.4 475.5L1307.8 470.7M1296.6 473.9L1307 469.1" stroke="#84a436" stroke-width="0.9" fill="none"/><ellipse cx="1310.9" cy="468.3" rx="4.4" ry="3.4" transform="rotate(-25 1310.9 468.3)" fill="none" stroke="#84a436" stroke-width="1"/><path d="M1300.4 495.3L1311.8 496.3M1300.5 493.5L1312 494.5" stroke="#84a436" stroke-width="0.9" fill="none"/><ellipse cx="1315.7" cy="495.7" rx="4.4" ry="3.4" transform="rotate(5 1315.7 495.7)" fill="none" stroke="#84a436" stroke-width="1"/><path d="M1293.1 513.8L1302.5 520.4M1294.2 512.3L1303.6 518.9" stroke="#84a436" stroke-width="0.9" fill="none"/><ellipse cx="1306.2" cy="521.9" rx="4.4" ry="3.4" transform="rotate(35 1306.2 521.9)" fill="none" stroke="#84a436" stroke-width="1"/><path d="M1277.6 526.3L1282.4 536.7M1279.2 525.5L1284 535.9" stroke="#84a436" stroke-width="0.9" fill="none"/><ellipse cx="1284.8" cy="539.8" rx="4.4" ry="3.4" transform="rotate(65 1284.8 539.8)" fill="none" stroke="#84a436" stroke-width="1"/><path d="M1257.8 529.3L1256.8 540.7M1259.6 529.4L1258.6 540.9" stroke="#84a436" stroke-width="0.9" fill="none"/><ellipse cx="1257.4" cy="544.6" rx="4.4" ry="3.4" transform="rotate(95 1257.4 544.6)" fill="none" stroke="#84a436" stroke-width="1"/><path d="M1239.3 522L1232.7 531.4M1240.8 523.1L1234.2 532.5" stroke="#84a436" stroke-width="0.9" fill="none"/><ellipse cx="1231.2" cy="535.1" rx="4.4" ry="3.4" transform="rotate(125 1231.2 535.1)" fill="none" stroke="#84a436" stroke-width="1"/><path d="M1226.8 506.5L1216.4 511.3M1227.6 508.1L1217.2 512.9" stroke="#84a436" stroke-width="0.9" fill="none"/><ellipse cx="1213.3" cy="513.7" rx="4.4" ry="3.4" transform="rotate(155 1213.3 513.7)" fill="none" stroke="#84a436" stroke-width="1"/><path d="M1223.8 486.7L1212.4 485.7M1223.7 488.5L1212.2 487.5" stroke="#84a436" stroke-width="0.9" fill="none"/><ellipse cx="1208.5" cy="486.3" rx="4.4" ry="3.4" transform="rotate(185 1208.5 486.3)" fill="none" stroke="#84a436" stroke-width="1"/><path d="M1231.1 468.2L1221.7 461.6M1230 469.7L1220.6 463.1" stroke="#84a436" stroke-width="0.9" fill="none"/><ellipse cx="1218" cy="460.1" rx="4.4" ry="3.4" transform="rotate(215 1218 460.1)" fill="none" stroke="#84a436" stroke-width="1"/><path d="M1246.6 455.7L1241.8 445.3M1245 456.5L1240.2 446.1" stroke="#84a436" stroke-width="0.9" fill="none"/><ellipse cx="1239.4" cy="442.2" rx="4.4" ry="3.4" transform="rotate(245 1239.4 442.2)" fill="none" stroke="#84a436" stroke-width="1"/><use href="#sG" x="1221.6" y="450.5" width="81" height="81"/><text x="1343" y="518.7" font-size="34" text-anchor="start" font-weight="normal" fill="#1c1612"  textLength="108" lengthAdjust="spacingAndGlyphs">Turn on</text><text x="1212.4" y="569" font-size="34" text-anchor="start" font-weight="normal" fill="#1c1612"  textLength="115.5" lengthAdjust="spacingAndGlyphs">Turn off</text><text x="1756" y="129.4" font-size="34" text-anchor="start" font-weight="normal" fill="#1c1612"  textLength="83" lengthAdjust="spacingAndGlyphs">FRET</text><rect x="1525.3" y="146.2" width="46" height="20.3" fill="none" stroke="#1c1612" stroke-width="2.6" stroke-dasharray="4.4 2.4"/><path d="M1571.3 146.2L1590 129.2M1571.3 166.5L1590 183.5" stroke="#1c1612" stroke-width="2.5" stroke-dasharray="6.2 3.6" fill="none"/><path d="M1586.1 155.9L1611.6 127.9Q1615.3 154.9 1613.9 181.8Z" fill="#14895f"/><polygon points="1586.1,155.9 1611.6,127.9 1606.9,142.6 1598.1,156" fill="#0e7550" opacity="1"/><polygon points="1586.1,155.9 1598.1,156 1605.7,163.9 1613.9,181.8" fill="#0b6a48" opacity="1"/><polygon points="1598.1,156 1603.5,149.9 1609.1,156.2 1605.1,162.7" fill="#3fae86" opacity="0.55"/><polygon points="1606.9,142.6 1611.6,127.9 1612.2,142.7" fill="#0e7550" opacity="0.7"/><line x1="1614.4" y1="162.5" x2="1764" y2="155.3" stroke="#6a9e34" stroke-width="3.2" stroke-linecap="butt"/><line x1="1624" y1="148.1" x2="1734.8" y2="143.1" stroke="#b8d9ac" stroke-width="3.1" stroke-linecap="butt"/><polygon points="1765.1,147.8 1766.6,152.6 1771.5,154 1767.4,157 1767.6,162 1763.5,159.1 1758.7,160.8 1760.3,156 1757.2,152 1762.2,151.9" fill="#5c9a2e"/><polygon points="1735.9,135.6 1737.4,140.4 1742.3,141.8 1738.2,144.8 1738.4,149.8 1734.3,146.9 1729.5,148.6 1731.1,143.8 1728,139.8 1733,139.7" fill="#f6b42c"/><polygon points="1775.8,153.4 1777.9,152.5 1779.8,151.1 1781.6,149.6 1783.1,147.7 1784.4,145.7 1785.4,143.4 1786.1,141.1 1786.5,138.7 1786.5,136.2 1786.2,133.7 1785.6,131.3 1784.6,129 1783.4,126.9 1781.9,124.9 1780.1,123.2 1778.1,121.8 1776,120.6 1773.8,119.8 1771.5,119.2 1769.2,119.1 1766.9,118.3 1764.6,118.4 1762.3,118.7 1760,119.2 1758.3,113.9 1752.3,129.8 1763.3,129.5 1761.6,124.2 1763.3,123.8 1765,123.5 1766.7,123.5 1768.5,123.2 1770.1,124 1771.6,124.8 1773,125.8 1774.2,126.9 1775.3,128.1 1776.3,129.4 1777.1,130.8 1777.8,132.2 1778.4,133.7 1778.8,135.2 1779,136.7 1779.1,138.3 1779,139.9 1778.8,141.5 1778.4,143.1 1777.9,144.7 1777.2,146.2 1776.3,147.7 1775.2,149.1 1774,150.5" fill="#7ec44c"/><polyline points="1779.9,148.2 1781,146.5 1782,144.6 1782.7,142.6 1783.2,140.6 1783.4,138.5 1783.4,136.4 1783.1,134.3 1782.5,132.3 1781.8,130.3 1780.8,128.5 1779.6,126.8 1778.1,125.2 1776.6,123.9 1774.8,122.7 1772.9,121.7 1771,121 1768.9,120.5 1766.8,120.3 1764.7,120.3" fill="none" stroke="#a4d874" stroke-width="1.6" opacity="0.8"/><rect x="1556.5" y="288.6" width="46.6" height="20.4" fill="none" stroke="#1c1612" stroke-width="2.6" stroke-dasharray="4.4 2.4"/><path d="M1603.1 288.6L1623.5 271.2M1603.1 309L1623.5 324.5" stroke="#1c1612" stroke-width="2.5" stroke-dasharray="6.2 3.6" fill="none"/><path d="M1616.3 298.2L1636.7 277.9Q1641.1 300 1640.3 322.1Z" fill="#13639f"/><polygon points="1616.3,298.2 1636.7,277.9 1633.2,289.4 1626.3,299.5" fill="#0d4f86" opacity="1"/><polygon points="1616.3,298.2 1626.3,299.5 1632.9,306.7 1640.3,322.1" fill="#0a4274" opacity="1"/><polygon points="1626.3,299.5 1630.6,295 1635.5,300.7 1632.3,305.6" fill="#3f86c0" opacity="0.55"/><polygon points="1633.2,289.4 1636.7,277.9 1637.7,290.1" fill="#0d4f86" opacity="0.7"/><line x1="1640.3" y1="305.4" x2="1790.4" y2="298.2" stroke="#3a94ca" stroke-width="3.2" stroke-linecap="butt"/><line x1="1659.4" y1="290.5" x2="1764.7" y2="286.2" stroke="#9fa6d8" stroke-width="3" stroke-linecap="butt"/><polygon points="1791.5,290.7 1793,295.5 1797.9,296.9 1793.8,299.9 1794,304.9 1789.9,302 1785.1,303.7 1786.7,298.9 1783.6,294.9 1788.6,294.8" fill="#5c9a2e"/><polygon points="1765.8,278.7 1767.3,283.5 1772.2,284.9 1768.1,287.9 1768.3,292.9 1764.2,290 1759.4,291.7 1761,286.9 1757.9,282.9 1762.9,282.8" fill="#f6b42c"/><polygon points="1802.9,311.9 1805.4,311.8 1807.9,311.2 1810.3,310.3 1812.6,309.2 1814.7,307.7 1816.6,305.9 1818.4,303.9 1819.8,301.6 1821,299.2 1821.8,296.7 1822.3,294.1 1822.4,291.4 1822.3,288.7 1821.7,286.1 1820.9,283.6 1819.7,281.3 1818.3,279.1 1816.6,277.2 1814.7,275.5 1812.6,274 1810.8,272.2 1808.6,271 1806.2,270.1 1803.8,269.4 1805,263.9 1790.5,274.7 1801.5,279.9 1802.7,274.5 1804.6,275 1806.4,275.7 1808.1,276.6 1810,277.4 1811.2,278.9 1812.3,280.6 1813.2,282.3 1813.9,284 1814.4,285.8 1814.8,287.6 1814.9,289.5 1814.9,291.3 1814.8,293.1 1814.4,294.8 1813.9,296.6 1813.2,298.3 1812.4,299.9 1811.4,301.4 1810.3,302.9 1809,304.3 1807.5,305.5 1805.9,306.6 1804.1,307.6 1802.3,308.5" fill="#7ec44c"/><polyline points="1809.2,308.5 1811.1,307.2 1812.9,305.7 1814.5,304.1 1815.9,302.2 1817.1,300.2 1818,298.1 1818.7,295.9 1819.1,293.7 1819.3,291.4 1819.2,289 1818.8,286.8 1818.2,284.5 1817.4,282.4 1816.3,280.4 1814.9,278.5 1813.4,276.8 1811.7,275.2 1809.8,273.9 1807.7,272.8" fill="none" stroke="#a4d874" stroke-width="1.6" opacity="0.8"/><rect x="1566.3" y="448.3" width="45.5" height="20.2" fill="none" stroke="#1c1612" stroke-width="2.6" stroke-dasharray="4.4 2.4"/><path d="M1611.8 448.3L1630.2 430.8M1611.8 468.5L1630.2 484.2" stroke="#1c1612" stroke-width="2.5" stroke-dasharray="6.2 3.6" fill="none"/><path d="M1625.5 463.7L1645.4 441Q1651.2 463.5 1651.8 486Z" fill="#b8242c"/><polygon points="1625.5,463.7 1645.4,441 1642.5,453.1 1636,464.1" fill="#9c1a22" opacity="1"/><polygon points="1625.5,463.7 1636,464.1 1643.2,470.8 1651.8,486" fill="#84141c" opacity="1"/><polygon points="1636,464.1 1640.1,459.1 1645.5,464.5 1642.6,469.9" fill="#d8505a" opacity="0.55"/><polygon points="1642.5,453.1 1645.4,441 1647.2,453.4" fill="#9c1a22" opacity="0.7"/><line x1="1649.5" y1="462.3" x2="1810.6" y2="456.7" stroke="#8e2488" stroke-width="3.2" stroke-linecap="butt"/><line x1="1661.2" y1="448" x2="1779.1" y2="443.4" stroke="#56525c" stroke-width="3.2" stroke-linecap="butt"/><polygon points="1811.7,449.2 1813.2,454 1818.1,455.4 1814,458.4 1814.2,463.4 1810.1,460.5 1805.3,462.2 1806.9,457.4 1803.8,453.4 1808.8,453.3" fill="#5c9a2e"/><polygon points="1780.2,435.9 1781.7,440.7 1786.6,442.1 1782.5,445.1 1782.7,450.1 1778.6,447.2 1773.8,448.9 1775.4,444.1 1772.3,440.1 1777.3,440" fill="#f6b42c"/><polygon points="1822.5,453.3 1824.7,451.9 1826.6,450.1 1828.4,448 1829.8,445.7 1831,443.2 1831.8,440.5 1832.3,437.8 1832.5,435 1832.2,432.2 1831.7,429.4 1830.7,426.7 1829.5,424.2 1827.9,421.9 1826.1,419.7 1824,417.9 1821.7,416.3 1819.2,415.1 1816.6,414.2 1814,413.6 1811.3,413.4 1808.7,412.7 1806,412.8 1803.4,413.2 1800.8,413.8 1799,408.5 1790.9,426.2 1804.1,424.1 1802.4,418.8 1804.4,418.3 1806.5,418 1808.6,417.9 1810.7,417.6 1812.7,418.4 1814.6,419.3 1816.4,420.4 1818,421.6 1819.5,423 1820.8,424.5 1821.9,426.1 1822.9,427.8 1823.7,429.6 1824.4,431.5 1824.8,433.4 1825.1,435.3 1825.2,437.3 1825.1,439.3 1824.8,441.3 1824.3,443.2 1823.6,445.2 1822.7,447.1 1821.5,448.9 1820.3,450.7" fill="#7ec44c"/><polyline points="1826.5,446.9 1827.6,444.7 1828.5,442.4 1829,440 1829.4,437.6 1829.4,435.1 1829.1,432.7 1828.6,430.3 1827.8,427.9 1826.7,425.7 1825.4,423.6 1823.9,421.7 1822.1,420 1820.2,418.5 1818.1,417.2 1815.8,416.2 1813.5,415.4 1811.1,414.9 1808.7,414.7 1806.2,414.8" fill="none" stroke="#a4d874" stroke-width="1.6" opacity="0.8"/><text x="1306.3" y="627.1" font-size="34" text-anchor="middle" font-weight="normal" fill="#1c1612"  textLength="143.5" lengthAdjust="spacingAndGlyphs">Reflection</text><text x="1540" y="624.7" font-size="34" text-anchor="middle" font-weight="normal" fill="#1c1612"  textLength="182" lengthAdjust="spacingAndGlyphs">Fluorescence</text><path d="M1363.5 683A45 45 0 0 0 1274.6 671" fill="none" stroke="#1c1612" stroke-width="11.5"/><polygon points="1257.5,672.5 1289,669.8 1272.2,686.4" fill="#1c1612"/><path d="M1483.3 672A47.4 47.4 0 0 1 1576.2 671" fill="none" stroke="#1c1612" stroke-width="11.5"/><polygon points="1467.8,673.6 1498.5,670 1485,685.6" fill="#1c1612"/><polygon points="1560.2,671.5 1592,670 1576.2,684.8" fill="#1c1612"/><text x="1303.6" y="711.2" font-size="34" text-anchor="middle" font-weight="bold" fill="#1c1612"  textLength="45.7" lengthAdjust="spacingAndGlyphs">DF</text><text x="1456.5" y="707.3" font-size="34" text-anchor="middle" font-weight="bold" fill="#1c1612"  textLength="147.3" lengthAdjust="spacingAndGlyphs">Channle 1</text><text x="1622.5" y="707.3" font-size="34" text-anchor="middle" font-weight="bold" fill="#1c1612"  textLength="148.8" lengthAdjust="spacingAndGlyphs">Channle 2</text><rect x="1197.6" y="800" width="4" height="433.3" fill="#0a0808"/><polygon points="1199.6,788 1209.5,806 1189.7,806" fill="#0a0808"/><rect x="1197.6" y="1229.3" width="540" height="4" fill="#0a0808"/><polygon points="1754,1231.3 1733,1241 1733,1221.6" fill="#0a0808"/><rect x="1259.7" y="964.6" width="86.7" height="263.3" fill="#20557f"/><polygon points="1259.7,964.6 1346.4,964.6 1341.9,969.1 1264.2,969.1" fill="#3a6c96"/><polygon points="1259.7,964.6 1264.2,969.1 1264.2,1227.9 1259.7,1227.9" fill="#19466c"/><polygon points="1346.4,964.6 1341.9,969.1 1341.9,1227.9 1346.4,1227.9" fill="#19466c"/><rect x="1256.5" y="1187.6" width="90" height="40.3" fill="#29abe2"/><rect x="1440" y="868" width="87" height="359.9" fill="#3f5f2f"/><polygon points="1440,868 1527,868 1522.5,872.5 1444.5,872.5" fill="#577a44"/><polygon points="1440,868 1444.5,872.5 1444.5,1227.9 1440,1227.9" fill="#324e26"/><polygon points="1527,868 1522.5,872.5 1522.5,1227.9 1527,1227.9" fill="#324e26"/><rect x="1437.8" y="1190" width="90" height="37.9" fill="#009245"/><rect x="1591.1" y="976.1" width="87.5" height="251.8" fill="#c0181e"/><polygon points="1591.1,976.1 1678.6,976.1 1674.1,980.6 1595.6,980.6" fill="#d8383c"/><polygon points="1591.1,976.1 1595.6,980.6 1595.6,1227.9 1591.1,1227.9" fill="#a01218"/><polygon points="1678.6,976.1 1674.1,980.6 1674.1,1227.9 1678.6,1227.9" fill="#a01218"/><rect x="1589.5" y="1198.3" width="90.4" height="29.6" fill="#e8392a"/><path d="M1288.5 948H1319M1288.5 979.2H1319M1303.8 948V979.2" stroke="#0a0808" stroke-width="2.4" fill="none"/><path d="M1292.2 1175.4H1323.8M1292.2 1210.4H1323.8M1308 1175.4V1210.4" stroke="#0a0808" stroke-width="2.4" fill="none"/><path d="M1469.2 851.2H1499.2M1469.2 882.8H1499.2M1484.2 851.2V882.8" stroke="#0a0808" stroke-width="2.4" fill="none"/><path d="M1467.5 1175.4H1498.5M1467.5 1209.4H1498.5M1483 1175.4V1209.4" stroke="#0a0808" stroke-width="2.4" fill="none"/><path d="M1617.3 957.8H1647.3M1617.3 989.8H1647.3M1632.3 957.8V989.8" stroke="#0a0808" stroke-width="2.4" fill="none"/><path d="M1622.5 1178.8H1653.5M1622.5 1212.8H1653.5M1638 1178.8V1212.8" stroke="#0a0808" stroke-width="2.4" fill="none"/><text transform="translate(1166,1032) rotate(-90)" font-size="34" font-weight="bold" fill="#1c1612">F<tspan font-size="18" dy="9">2</tspan><tspan dy="-9">/F</tspan><tspan font-size="18" dy="9">1</tspan></text><text x="1284.2" y="1276.5" font-size="34" text-anchor="middle" font-weight="bold" fill="#1c1612"  textLength="156.5" lengthAdjust="spacingAndGlyphs">miRNA-21</text><text x="1471" y="1276.5" font-size="34" text-anchor="middle" font-weight="bold" fill="#1c1612"  textLength="176.4" lengthAdjust="spacingAndGlyphs">miRNA-155</text><text x="1660.2" y="1276.5" font-size="34" text-anchor="middle" font-weight="bold" fill="#1c1612"  textLength="177.4" lengthAdjust="spacingAndGlyphs">miRNA-10b</text><rect x="1230" y="724.2" width="151.4" height="126.5" fill="#0c0b0a"/><g clip-path="url(#mc43)"><g filter="url(#blur2)"><circle cx="1277.7" cy="741.2" r="8.3" fill="#80b0b0" opacity="0.9"/><circle cx="1296.9" cy="751" r="8.3" fill="#78aea6" opacity="0.9"/><circle cx="1356.5" cy="746" r="8.6" fill="#acb8bc" opacity="0.9"/><circle cx="1260.7" cy="764.1" r="8.3" fill="#98a8be" opacity="0.85"/><circle cx="1317.6" cy="781.9" r="7.8" fill="#4262b2" opacity="0.9"/><circle cx="1307.1" cy="802.9" r="8" fill="#4868b8" opacity="0.9"/><circle cx="1323.7" cy="806.9" r="8.3" fill="#a0a8b8" opacity="0.9"/><circle cx="1313.7" cy="831" r="8" fill="#4468b8" opacity="0.9"/></g></g><rect x="1385.9" y="724.2" width="156.4" height="124.1" fill="#050505"/><g clip-path="url(#mc44)"><g filter="url(#blur2)"><circle cx="1434.4" cy="740.5" r="9" fill="#50d840" opacity="1"/><circle cx="1455.4" cy="751" r="9" fill="#58d848" opacity="1"/><circle cx="1520.8" cy="746" r="9" fill="#58e040" opacity="1"/><circle cx="1414.8" cy="764.1" r="8.8" fill="#3cc838" opacity="1"/><circle cx="1478" cy="785.3" r="8" fill="#0a4c20" opacity="0.9"/><circle cx="1465.4" cy="808.2" r="8.6" fill="#4cd040" opacity="1"/><circle cx="1483.8" cy="812.6" r="8.6" fill="#0c6028" opacity="0.9"/><circle cx="1473.3" cy="838.4" r="8.6" fill="#58d848" opacity="1"/></g></g><rect x="1546.8" y="722.9" width="155.4" height="124.1" fill="#080303"/><g clip-path="url(#mc45)"><g filter="url(#blur2)"><circle cx="1595.3" cy="739.1" r="8.8" fill="#a02028" opacity="0.95"/><circle cx="1615.8" cy="750.4" r="8.8" fill="#ae2830" opacity="0.95"/><circle cx="1681.2" cy="745.2" r="9" fill="#982028" opacity="0.9"/><circle cx="1574.9" cy="764.1" r="8.8" fill="#a02028" opacity="0.9"/><circle cx="1638.1" cy="784.6" r="8.8" fill="#f02020" opacity="1"/><circle cx="1625" cy="806.9" r="8.6" fill="#6c1018" opacity="0.9"/><circle cx="1644.4" cy="811.3" r="8.8" fill="#e02020" opacity="1"/><circle cx="1633.4" cy="837.8" r="8.6" fill="#701018" opacity="0.9"/></g></g></g>
<g id="legend"><text x="91" y="1367.5" font-size="34" text-anchor="start" font-weight="normal" fill="#1c1612"  textLength="71.5" lengthAdjust="spacingAndGlyphs">FAM</text><text x="91" y="1424" font-size="34" text-anchor="start" font-weight="normal" fill="#1c1612"  textLength="71.5" lengthAdjust="spacingAndGlyphs">ROX</text><polygon points="187.1,1351.9 191.2,1355.9 196.8,1354.7 194.3,1359.8 197.1,1364.8 191.5,1364 187.6,1368.3 186.6,1362.6 181.4,1360.3 186.4,1357.6" fill="#5c9a2e"/><polygon points="181.7,1407 186.3,1411.4 192.6,1410.1 189.8,1415.8 193,1421.4 186.6,1420.5 182.4,1425.2 181.2,1419 175.4,1416.3 181,1413.3" fill="#f6b42c"/><path d="M448.5 1385.8V1331.7A13.7 13.7 0 1 1 462.7 1331.7V1372" fill="none" stroke="#2e9bd3" stroke-width="4.3"/><polygon points="462.7,1368.4 465.2,1373.5 470.9,1374.3 466.8,1378.3 467.8,1384 462.7,1381.3 457.6,1384 458.6,1378.3 454.5,1374.3 460.2,1373.5" fill="#5c9a2e"/><path d="M543.5 1392V1328A13.7 13.7 0 1 1 557.7 1328V1373.8" fill="none" stroke="#929bd6" stroke-width="4.3"/><polygon points="541.8,1387 544.7,1392.8 551.1,1393.8 546.5,1398.3 547.6,1404.7 541.8,1401.7 536,1404.7 537.1,1398.3 532.5,1393.8 538.9,1392.8" fill="#f6b42c"/><line x1="618" y1="1357.5" x2="721.8" y2="1357.5" stroke="#244c8c" stroke-width="3.4" stroke-linecap="butt"/><text x="411.3" y="1445" font-size="34" text-anchor="start" font-weight="normal" fill="#1c1612"  textLength="86.2" lengthAdjust="spacingAndGlyphs">HP1-1</text><text x="506.3" y="1445" font-size="34" text-anchor="start" font-weight="normal" fill="#1c1612"  textLength="88.2" lengthAdjust="spacingAndGlyphs">HP1-2</text><text x="604.3" y="1445" font-size="34" text-anchor="start" font-weight="normal" fill="#1c1612"  textLength="150.7" lengthAdjust="spacingAndGlyphs">miRNA-21</text><path d="M913.6 1385.5V1331.6A13.5 13.5 0 1 1 927.4 1331.6V1372" fill="none" stroke="#55962f" stroke-width="4.3"/><polygon points="925.8,1368.9 928.3,1374 934,1374.8 929.9,1378.8 930.9,1384.5 925.8,1381.8 920.7,1384.5 921.7,1378.8 917.6,1374.8 923.3,1374" fill="#5c9a2e"/><path d="M1006.8 1394V1324.3A15.6 15.6 0 1 1 1022.5 1324.3V1377.5" fill="none" stroke="#b9dcb0" stroke-width="4.3"/><polygon points="1009.3,1389 1012.2,1394.8 1018.6,1395.8 1014,1400.3 1015.1,1406.7 1009.3,1403.7 1003.5,1406.7 1004.6,1400.3 1000,1395.8 1006.4,1394.8" fill="#f6b42c"/><line x1="1098.3" y1="1360" x2="1204.5" y2="1360" stroke="#5fbf9f" stroke-width="3" stroke-linecap="butt"/><text x="877" y="1445" font-size="34" text-anchor="start" font-weight="normal" fill="#1c1612"  textLength="85.5" lengthAdjust="spacingAndGlyphs">HP2-1</text><text x="972" y="1445" font-size="34" text-anchor="start" font-weight="normal" fill="#1c1612"  textLength="86.3" lengthAdjust="spacingAndGlyphs">HP2-2</text><text x="1071.3" y="1445" font-size="34" text-anchor="start" font-weight="normal" fill="#1c1612"  textLength="171.2" lengthAdjust="spacingAndGlyphs">miRNA-155</text><path d="M1443.2 1385.5V1331.6A13.5 13.5 0 1 1 1456.8 1331.6V1368" fill="none" stroke="#8b1a8b" stroke-width="4.3"/><polygon points="1458,1365.2 1460.5,1370.3 1466.2,1371.1 1462.1,1375.1 1463.1,1380.8 1458,1378.1 1452.9,1380.8 1453.9,1375.1 1449.8,1371.1 1455.5,1370.3" fill="#5c9a2e"/><path d="M1542.5 1399V1324A17.1 17.1 0 1 1 1560 1324V1380" fill="none" stroke="#55525a" stroke-width="4.3"/><polygon points="1544.5,1394 1547.4,1399.8 1553.8,1400.8 1549.2,1405.3 1550.3,1411.7 1544.5,1408.7 1538.7,1411.7 1539.8,1405.3 1535.2,1400.8 1541.6,1399.8" fill="#f6b42c"/><line x1="1626.8" y1="1360" x2="1735.8" y2="1360" stroke="#efb48c" stroke-width="3" stroke-linecap="butt"/><text x="1405.8" y="1445" font-size="34" text-anchor="start" font-weight="normal" fill="#1c1612"  textLength="85.5" lengthAdjust="spacingAndGlyphs">HP3-1</text><text x="1507.5" y="1445" font-size="34" text-anchor="start" font-weight="normal" fill="#1c1612"  textLength="87.5" lengthAdjust="spacingAndGlyphs">HP3-2</text><text x="1611.3" y="1445" font-size="34" text-anchor="start" font-weight="normal" fill="#1c1612"  textLength="171.2" lengthAdjust="spacingAndGlyphs">miRNA-10b</text></g>
</svg>
</body></html>
